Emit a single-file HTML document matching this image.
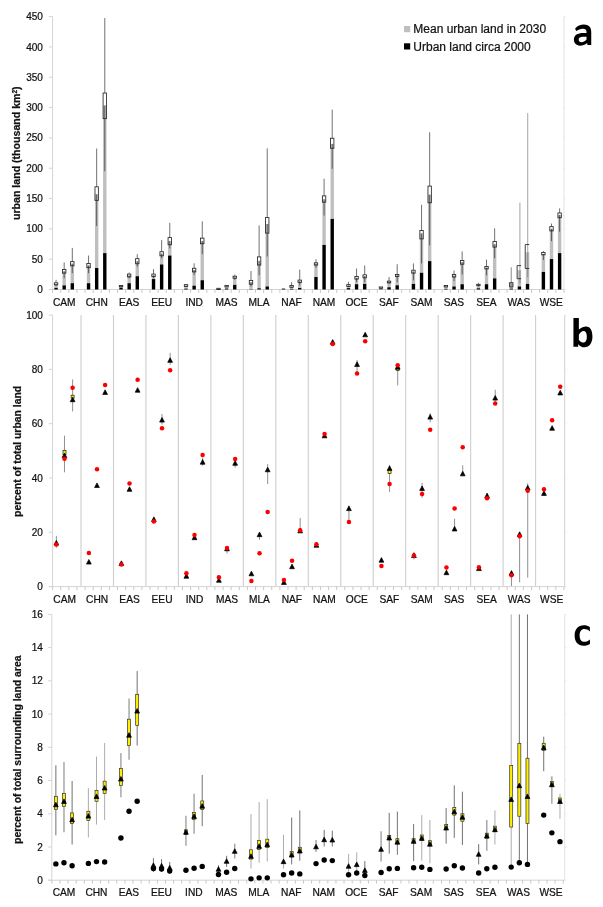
<!DOCTYPE html>
<html><head><meta charset="utf-8"><title>Urban land figure</title>
<style>
html,body{margin:0;padding:0;background:#fff;}
body{width:603px;height:907px;overflow:hidden;font-family:"Liberation Sans",sans-serif;}
svg{display:block;will-change:transform;}
svg text{font-family:"Liberation Sans",sans-serif;fill:#111;stroke:#111;stroke-width:0.22px;}
.tk{font-size:10px;}
.gl{font-size:10.2px;}
.lg{font-size:12px;}
.at{font-size:10.4px;font-weight:bold;}
.pl{font-size:40px;font-weight:bold;fill:#000;}
</style></head><body>
<svg width="603" height="907" viewBox="0 0 603 907">
<rect width="603" height="907" fill="#fff"/>
<line x1="52.6" y1="16.6" x2="52.6" y2="289.5" stroke="#d4d4d4" stroke-width="1"/>
<line x1="49.1" y1="289.5" x2="563.97" y2="289.5" stroke="#d4d4d4" stroke-width="1"/>
<line x1="563.97" y1="16.6" x2="563.97" y2="289.5" stroke="#e3e3e3" stroke-width="1"/>
<line x1="48.9" y1="289.5" x2="52.6" y2="289.5" stroke="#d4d4d4" stroke-width="1"/>
<line x1="563.97" y1="289.5" x2="565.47" y2="289.5" stroke="#e4e4e4" stroke-width="1"/>
<text x="42.9" y="293.1" text-anchor="end" class="tk">0</text>
<line x1="48.9" y1="259.18" x2="52.6" y2="259.18" stroke="#d4d4d4" stroke-width="1"/>
<line x1="563.97" y1="259.18" x2="565.47" y2="259.18" stroke="#e4e4e4" stroke-width="1"/>
<text x="42.9" y="262.78" text-anchor="end" class="tk">50</text>
<line x1="48.9" y1="228.86" x2="52.6" y2="228.86" stroke="#d4d4d4" stroke-width="1"/>
<line x1="563.97" y1="228.86" x2="565.47" y2="228.86" stroke="#e4e4e4" stroke-width="1"/>
<text x="42.9" y="232.46" text-anchor="end" class="tk">100</text>
<line x1="48.9" y1="198.53" x2="52.6" y2="198.53" stroke="#d4d4d4" stroke-width="1"/>
<line x1="563.97" y1="198.53" x2="565.47" y2="198.53" stroke="#e4e4e4" stroke-width="1"/>
<text x="42.9" y="202.13" text-anchor="end" class="tk">150</text>
<line x1="48.9" y1="168.21" x2="52.6" y2="168.21" stroke="#d4d4d4" stroke-width="1"/>
<line x1="563.97" y1="168.21" x2="565.47" y2="168.21" stroke="#e4e4e4" stroke-width="1"/>
<text x="42.9" y="171.81" text-anchor="end" class="tk">200</text>
<line x1="48.9" y1="137.89" x2="52.6" y2="137.89" stroke="#d4d4d4" stroke-width="1"/>
<line x1="563.97" y1="137.89" x2="565.47" y2="137.89" stroke="#e4e4e4" stroke-width="1"/>
<text x="42.9" y="141.49" text-anchor="end" class="tk">250</text>
<line x1="48.9" y1="107.57" x2="52.6" y2="107.57" stroke="#d4d4d4" stroke-width="1"/>
<line x1="563.97" y1="107.57" x2="565.47" y2="107.57" stroke="#e4e4e4" stroke-width="1"/>
<text x="42.9" y="111.17" text-anchor="end" class="tk">300</text>
<line x1="48.9" y1="77.24" x2="52.6" y2="77.24" stroke="#d4d4d4" stroke-width="1"/>
<line x1="563.97" y1="77.24" x2="565.47" y2="77.24" stroke="#e4e4e4" stroke-width="1"/>
<text x="42.9" y="80.84" text-anchor="end" class="tk">350</text>
<line x1="48.9" y1="46.92" x2="52.6" y2="46.92" stroke="#d4d4d4" stroke-width="1"/>
<line x1="563.97" y1="46.92" x2="565.47" y2="46.92" stroke="#e4e4e4" stroke-width="1"/>
<text x="42.9" y="50.52" text-anchor="end" class="tk">400</text>
<line x1="48.9" y1="16.6" x2="52.6" y2="16.6" stroke="#d4d4d4" stroke-width="1"/>
<line x1="563.97" y1="16.6" x2="565.47" y2="16.6" stroke="#e4e4e4" stroke-width="1"/>
<text x="42.9" y="20.2" text-anchor="end" class="tk">450</text>
<line x1="52.6" y1="289.5" x2="52.6" y2="292.9" stroke="#c8c8c8" stroke-width="1"/>
<line x1="60.72" y1="289.5" x2="60.72" y2="292.9" stroke="#c8c8c8" stroke-width="1"/>
<line x1="68.83" y1="289.5" x2="68.83" y2="292.9" stroke="#c8c8c8" stroke-width="1"/>
<line x1="76.95" y1="289.5" x2="76.95" y2="292.9" stroke="#c8c8c8" stroke-width="1"/>
<line x1="85.07" y1="289.5" x2="85.07" y2="292.9" stroke="#c8c8c8" stroke-width="1"/>
<line x1="93.19" y1="289.5" x2="93.19" y2="292.9" stroke="#c8c8c8" stroke-width="1"/>
<line x1="101.3" y1="289.5" x2="101.3" y2="292.9" stroke="#c8c8c8" stroke-width="1"/>
<line x1="109.42" y1="289.5" x2="109.42" y2="292.9" stroke="#c8c8c8" stroke-width="1"/>
<line x1="117.54" y1="289.5" x2="117.54" y2="292.9" stroke="#c8c8c8" stroke-width="1"/>
<line x1="125.65" y1="289.5" x2="125.65" y2="292.9" stroke="#c8c8c8" stroke-width="1"/>
<line x1="133.77" y1="289.5" x2="133.77" y2="292.9" stroke="#c8c8c8" stroke-width="1"/>
<line x1="141.89" y1="289.5" x2="141.89" y2="292.9" stroke="#c8c8c8" stroke-width="1"/>
<line x1="150" y1="289.5" x2="150" y2="292.9" stroke="#c8c8c8" stroke-width="1"/>
<line x1="158.12" y1="289.5" x2="158.12" y2="292.9" stroke="#c8c8c8" stroke-width="1"/>
<line x1="166.24" y1="289.5" x2="166.24" y2="292.9" stroke="#c8c8c8" stroke-width="1"/>
<line x1="174.36" y1="289.5" x2="174.36" y2="292.9" stroke="#c8c8c8" stroke-width="1"/>
<line x1="182.47" y1="289.5" x2="182.47" y2="292.9" stroke="#c8c8c8" stroke-width="1"/>
<line x1="190.59" y1="289.5" x2="190.59" y2="292.9" stroke="#c8c8c8" stroke-width="1"/>
<line x1="198.71" y1="289.5" x2="198.71" y2="292.9" stroke="#c8c8c8" stroke-width="1"/>
<line x1="206.82" y1="289.5" x2="206.82" y2="292.9" stroke="#c8c8c8" stroke-width="1"/>
<line x1="214.94" y1="289.5" x2="214.94" y2="292.9" stroke="#c8c8c8" stroke-width="1"/>
<line x1="223.06" y1="289.5" x2="223.06" y2="292.9" stroke="#c8c8c8" stroke-width="1"/>
<line x1="231.17" y1="289.5" x2="231.17" y2="292.9" stroke="#c8c8c8" stroke-width="1"/>
<line x1="239.29" y1="289.5" x2="239.29" y2="292.9" stroke="#c8c8c8" stroke-width="1"/>
<line x1="247.41" y1="289.5" x2="247.41" y2="292.9" stroke="#c8c8c8" stroke-width="1"/>
<line x1="255.53" y1="289.5" x2="255.53" y2="292.9" stroke="#c8c8c8" stroke-width="1"/>
<line x1="263.64" y1="289.5" x2="263.64" y2="292.9" stroke="#c8c8c8" stroke-width="1"/>
<line x1="271.76" y1="289.5" x2="271.76" y2="292.9" stroke="#c8c8c8" stroke-width="1"/>
<line x1="279.88" y1="289.5" x2="279.88" y2="292.9" stroke="#c8c8c8" stroke-width="1"/>
<line x1="287.99" y1="289.5" x2="287.99" y2="292.9" stroke="#c8c8c8" stroke-width="1"/>
<line x1="296.11" y1="289.5" x2="296.11" y2="292.9" stroke="#c8c8c8" stroke-width="1"/>
<line x1="304.23" y1="289.5" x2="304.23" y2="292.9" stroke="#c8c8c8" stroke-width="1"/>
<line x1="312.34" y1="289.5" x2="312.34" y2="292.9" stroke="#c8c8c8" stroke-width="1"/>
<line x1="320.46" y1="289.5" x2="320.46" y2="292.9" stroke="#c8c8c8" stroke-width="1"/>
<line x1="328.58" y1="289.5" x2="328.58" y2="292.9" stroke="#c8c8c8" stroke-width="1"/>
<line x1="336.7" y1="289.5" x2="336.7" y2="292.9" stroke="#c8c8c8" stroke-width="1"/>
<line x1="344.81" y1="289.5" x2="344.81" y2="292.9" stroke="#c8c8c8" stroke-width="1"/>
<line x1="352.93" y1="289.5" x2="352.93" y2="292.9" stroke="#c8c8c8" stroke-width="1"/>
<line x1="361.05" y1="289.5" x2="361.05" y2="292.9" stroke="#c8c8c8" stroke-width="1"/>
<line x1="369.16" y1="289.5" x2="369.16" y2="292.9" stroke="#c8c8c8" stroke-width="1"/>
<line x1="377.28" y1="289.5" x2="377.28" y2="292.9" stroke="#c8c8c8" stroke-width="1"/>
<line x1="385.4" y1="289.5" x2="385.4" y2="292.9" stroke="#c8c8c8" stroke-width="1"/>
<line x1="393.51" y1="289.5" x2="393.51" y2="292.9" stroke="#c8c8c8" stroke-width="1"/>
<line x1="401.63" y1="289.5" x2="401.63" y2="292.9" stroke="#c8c8c8" stroke-width="1"/>
<line x1="409.75" y1="289.5" x2="409.75" y2="292.9" stroke="#c8c8c8" stroke-width="1"/>
<line x1="417.87" y1="289.5" x2="417.87" y2="292.9" stroke="#c8c8c8" stroke-width="1"/>
<line x1="425.98" y1="289.5" x2="425.98" y2="292.9" stroke="#c8c8c8" stroke-width="1"/>
<line x1="434.1" y1="289.5" x2="434.1" y2="292.9" stroke="#c8c8c8" stroke-width="1"/>
<line x1="442.22" y1="289.5" x2="442.22" y2="292.9" stroke="#c8c8c8" stroke-width="1"/>
<line x1="450.33" y1="289.5" x2="450.33" y2="292.9" stroke="#c8c8c8" stroke-width="1"/>
<line x1="458.45" y1="289.5" x2="458.45" y2="292.9" stroke="#c8c8c8" stroke-width="1"/>
<line x1="466.57" y1="289.5" x2="466.57" y2="292.9" stroke="#c8c8c8" stroke-width="1"/>
<line x1="474.68" y1="289.5" x2="474.68" y2="292.9" stroke="#c8c8c8" stroke-width="1"/>
<line x1="482.8" y1="289.5" x2="482.8" y2="292.9" stroke="#c8c8c8" stroke-width="1"/>
<line x1="490.92" y1="289.5" x2="490.92" y2="292.9" stroke="#c8c8c8" stroke-width="1"/>
<line x1="499.04" y1="289.5" x2="499.04" y2="292.9" stroke="#c8c8c8" stroke-width="1"/>
<line x1="507.15" y1="289.5" x2="507.15" y2="292.9" stroke="#c8c8c8" stroke-width="1"/>
<line x1="515.27" y1="289.5" x2="515.27" y2="292.9" stroke="#c8c8c8" stroke-width="1"/>
<line x1="523.39" y1="289.5" x2="523.39" y2="292.9" stroke="#c8c8c8" stroke-width="1"/>
<line x1="531.5" y1="289.5" x2="531.5" y2="292.9" stroke="#c8c8c8" stroke-width="1"/>
<line x1="539.62" y1="289.5" x2="539.62" y2="292.9" stroke="#c8c8c8" stroke-width="1"/>
<line x1="547.74" y1="289.5" x2="547.74" y2="292.9" stroke="#c8c8c8" stroke-width="1"/>
<line x1="555.85" y1="289.5" x2="555.85" y2="292.9" stroke="#c8c8c8" stroke-width="1"/>
<line x1="563.97" y1="289.5" x2="563.97" y2="292.9" stroke="#c8c8c8" stroke-width="1"/>
<text x="64.28" y="305.6" text-anchor="middle" class="gl">CAM</text>
<text x="96.74" y="305.6" text-anchor="middle" class="gl">CHN</text>
<text x="129.21" y="305.6" text-anchor="middle" class="gl">EAS</text>
<text x="161.68" y="305.6" text-anchor="middle" class="gl">EEU</text>
<text x="194.15" y="305.6" text-anchor="middle" class="gl">IND</text>
<text x="226.62" y="305.6" text-anchor="middle" class="gl">MAS</text>
<text x="259.08" y="305.6" text-anchor="middle" class="gl">MLA</text>
<text x="291.55" y="305.6" text-anchor="middle" class="gl">NAF</text>
<text x="324.02" y="305.6" text-anchor="middle" class="gl">NAM</text>
<text x="356.49" y="305.6" text-anchor="middle" class="gl">OCE</text>
<text x="388.96" y="305.6" text-anchor="middle" class="gl">SAF</text>
<text x="421.42" y="305.6" text-anchor="middle" class="gl">SAM</text>
<text x="453.89" y="305.6" text-anchor="middle" class="gl">SAS</text>
<text x="486.36" y="305.6" text-anchor="middle" class="gl">SEA</text>
<text x="518.83" y="305.6" text-anchor="middle" class="gl">WAS</text>
<text x="551.3" y="305.6" text-anchor="middle" class="gl">WSE</text>
<rect x="54.36" y="284.04" width="3.4" height="3.82" fill="#bfbfbf"/>
<line x1="56.06" y1="279.8" x2="56.06" y2="282.83" stroke="#333" stroke-width="0.7"/>
<line x1="56.06" y1="284.04" x2="56.06" y2="285.86" stroke="#333" stroke-width="0.7"/>
<rect x="54.36" y="282.83" width="3.4" height="2.06" fill="none" stroke="#262626" stroke-width="0.85"/>
<rect x="54.36" y="287.86" width="3.4" height="1.64" fill="#000"/>
<rect x="62.48" y="271.31" width="3.4" height="14.07" fill="#bfbfbf"/>
<line x1="64.18" y1="262.51" x2="64.18" y2="269.49" stroke="#333" stroke-width="0.7"/>
<line x1="64.18" y1="271.31" x2="64.18" y2="278.22" stroke="#333" stroke-width="0.7"/>
<rect x="62.48" y="269.49" width="3.4" height="3.64" fill="none" stroke="#262626" stroke-width="0.85"/>
<rect x="62.48" y="285.38" width="3.4" height="4.12" fill="#000"/>
<rect x="70.6" y="263.67" width="3.4" height="19.53" fill="#bfbfbf"/>
<line x1="72.3" y1="247.9" x2="72.3" y2="261.6" stroke="#333" stroke-width="0.7"/>
<line x1="72.3" y1="263.67" x2="72.3" y2="273.13" stroke="#333" stroke-width="0.7"/>
<rect x="70.6" y="261.6" width="3.4" height="4.25" fill="none" stroke="#262626" stroke-width="0.85"/>
<rect x="70.6" y="283.19" width="3.4" height="6.31" fill="#000"/>
<rect x="86.85" y="265.48" width="3.4" height="17.71" fill="#bfbfbf"/>
<line x1="88.55" y1="255.54" x2="88.55" y2="263.42" stroke="#333" stroke-width="0.7"/>
<line x1="88.55" y1="265.48" x2="88.55" y2="273.13" stroke="#333" stroke-width="0.7"/>
<rect x="86.85" y="263.42" width="3.4" height="4.25" fill="none" stroke="#262626" stroke-width="0.85"/>
<rect x="86.85" y="283.19" width="3.4" height="6.31" fill="#000"/>
<rect x="94.97" y="194.29" width="3.4" height="73.68" fill="#bfbfbf"/>
<line x1="96.67" y1="148.56" x2="96.67" y2="186.83" stroke="#333" stroke-width="0.7"/>
<line x1="96.67" y1="194.29" x2="96.67" y2="226.01" stroke="#333" stroke-width="0.7"/>
<rect x="94.97" y="186.83" width="3.4" height="13.52" fill="none" stroke="#262626" stroke-width="0.85"/>
<rect x="94.97" y="267.97" width="3.4" height="21.53" fill="#000"/>
<rect x="103.09" y="105.44" width="3.4" height="147.67" fill="#bfbfbf"/>
<line x1="104.79" y1="18.12" x2="104.79" y2="93.01" stroke="#333" stroke-width="0.7"/>
<line x1="104.79" y1="105.44" x2="104.79" y2="171.24" stroke="#333" stroke-width="0.7"/>
<rect x="103.09" y="93.01" width="3.4" height="25.65" fill="none" stroke="#262626" stroke-width="0.85"/>
<rect x="103.09" y="253.11" width="3.4" height="36.39" fill="#000"/>
<rect x="119.33" y="285.68" width="3.4" height="2.18" fill="#bfbfbf"/>
<line x1="121.03" y1="285.25" x2="121.03" y2="285.56" stroke="#333" stroke-width="0.7"/>
<line x1="121.03" y1="285.68" x2="121.03" y2="287.07" stroke="#333" stroke-width="0.7"/>
<rect x="119.33" y="285.56" width="3.4" height="1.3" fill="none" stroke="#262626" stroke-width="0.85"/>
<rect x="119.33" y="287.86" width="3.4" height="1.64" fill="#000"/>
<rect x="127.46" y="275.43" width="3.4" height="7.76" fill="#bfbfbf"/>
<line x1="129.16" y1="272.52" x2="129.16" y2="274.1" stroke="#333" stroke-width="0.7"/>
<line x1="129.16" y1="275.43" x2="129.16" y2="278.22" stroke="#333" stroke-width="0.7"/>
<rect x="127.46" y="274.1" width="3.4" height="2.79" fill="none" stroke="#262626" stroke-width="0.85"/>
<rect x="127.46" y="283.19" width="3.4" height="6.31" fill="#000"/>
<rect x="135.58" y="261.18" width="3.4" height="15.04" fill="#bfbfbf"/>
<line x1="137.28" y1="254.2" x2="137.28" y2="258.69" stroke="#333" stroke-width="0.7"/>
<line x1="137.28" y1="261.18" x2="137.28" y2="266.64" stroke="#333" stroke-width="0.7"/>
<rect x="135.58" y="258.69" width="3.4" height="5.09" fill="none" stroke="#262626" stroke-width="0.85"/>
<rect x="135.58" y="276.22" width="3.4" height="13.28" fill="#000"/>
<rect x="151.82" y="275.43" width="3.4" height="3.64" fill="#bfbfbf"/>
<line x1="153.52" y1="269.12" x2="153.52" y2="274.1" stroke="#333" stroke-width="0.7"/>
<line x1="153.52" y1="275.43" x2="153.52" y2="278.22" stroke="#333" stroke-width="0.7"/>
<rect x="151.82" y="274.1" width="3.4" height="2.49" fill="none" stroke="#262626" stroke-width="0.85"/>
<rect x="151.82" y="279.07" width="3.4" height="10.43" fill="#000"/>
<rect x="159.94" y="253.72" width="3.4" height="10.73" fill="#bfbfbf"/>
<line x1="161.64" y1="240.07" x2="161.64" y2="251.72" stroke="#333" stroke-width="0.7"/>
<line x1="161.64" y1="253.72" x2="161.64" y2="258.33" stroke="#333" stroke-width="0.7"/>
<rect x="159.94" y="251.72" width="3.4" height="4.12" fill="none" stroke="#262626" stroke-width="0.85"/>
<rect x="159.94" y="264.45" width="3.4" height="25.05" fill="#000"/>
<rect x="168.07" y="240.98" width="3.4" height="14.55" fill="#bfbfbf"/>
<line x1="169.77" y1="222.79" x2="169.77" y2="237.59" stroke="#333" stroke-width="0.7"/>
<line x1="169.77" y1="240.98" x2="169.77" y2="248.38" stroke="#333" stroke-width="0.7"/>
<rect x="168.07" y="237.59" width="3.4" height="7.16" fill="none" stroke="#262626" stroke-width="0.85"/>
<rect x="168.07" y="255.54" width="3.4" height="33.96" fill="#000"/>
<rect x="184.31" y="285.68" width="3.4" height="2.97" fill="#bfbfbf"/>
<line x1="186.01" y1="284.04" x2="186.01" y2="284.65" stroke="#333" stroke-width="0.7"/>
<line x1="186.01" y1="285.68" x2="186.01" y2="286.77" stroke="#333" stroke-width="0.7"/>
<rect x="184.31" y="284.65" width="3.4" height="1.82" fill="none" stroke="#262626" stroke-width="0.85"/>
<rect x="184.31" y="288.65" width="3.4" height="0.85" fill="#000"/>
<rect x="192.43" y="269.91" width="3.4" height="15.77" fill="#bfbfbf"/>
<line x1="194.13" y1="263.3" x2="194.13" y2="268.27" stroke="#333" stroke-width="0.7"/>
<line x1="194.13" y1="269.91" x2="194.13" y2="274.95" stroke="#333" stroke-width="0.7"/>
<rect x="192.43" y="268.27" width="3.4" height="3.64" fill="none" stroke="#262626" stroke-width="0.85"/>
<rect x="192.43" y="285.68" width="3.4" height="3.82" fill="#000"/>
<rect x="200.55" y="240.98" width="3.4" height="39.24" fill="#bfbfbf"/>
<line x1="202.25" y1="221.34" x2="202.25" y2="238.13" stroke="#333" stroke-width="0.7"/>
<line x1="202.25" y1="240.98" x2="202.25" y2="254.2" stroke="#333" stroke-width="0.7"/>
<rect x="200.55" y="238.13" width="3.4" height="5.58" fill="none" stroke="#262626" stroke-width="0.85"/>
<rect x="200.55" y="280.22" width="3.4" height="9.28" fill="#000"/>
<rect x="216.8" y="288.59" width="3.4" height="0.61" fill="#bfbfbf"/>
<line x1="218.5" y1="288.29" x2="218.5" y2="288.29" stroke="#333" stroke-width="0.7"/>
<line x1="218.5" y1="288.59" x2="218.5" y2="288.89" stroke="#333" stroke-width="0.7"/>
<rect x="216.8" y="288.29" width="3.4" height="1.3" fill="none" stroke="#262626" stroke-width="0.85"/>
<rect x="216.8" y="289.2" width="3.4" height="0.3" fill="#000"/>
<rect x="224.92" y="286.47" width="3.4" height="2.06" fill="#bfbfbf"/>
<line x1="226.62" y1="285.25" x2="226.62" y2="285.38" stroke="#333" stroke-width="0.7"/>
<line x1="226.62" y1="286.47" x2="226.62" y2="287.07" stroke="#333" stroke-width="0.7"/>
<rect x="224.92" y="285.38" width="3.4" height="1.52" fill="none" stroke="#262626" stroke-width="0.85"/>
<rect x="224.92" y="288.53" width="3.4" height="0.97" fill="#000"/>
<rect x="233.04" y="277.37" width="3.4" height="7.46" fill="#bfbfbf"/>
<line x1="234.74" y1="274.58" x2="234.74" y2="276.22" stroke="#333" stroke-width="0.7"/>
<line x1="234.74" y1="277.37" x2="234.74" y2="279.8" stroke="#333" stroke-width="0.7"/>
<rect x="233.04" y="276.22" width="3.4" height="2" fill="none" stroke="#262626" stroke-width="0.85"/>
<rect x="233.04" y="284.83" width="3.4" height="4.67" fill="#000"/>
<rect x="249.29" y="282.22" width="3.4" height="6.97" fill="#bfbfbf"/>
<line x1="250.99" y1="271.06" x2="250.99" y2="280.4" stroke="#333" stroke-width="0.7"/>
<line x1="250.99" y1="282.22" x2="250.99" y2="286.47" stroke="#333" stroke-width="0.7"/>
<rect x="249.29" y="280.4" width="3.4" height="3.82" fill="none" stroke="#262626" stroke-width="0.85"/>
<rect x="249.29" y="289.2" width="3.4" height="0.3" fill="#000"/>
<rect x="257.41" y="260.82" width="3.4" height="27.47" fill="#bfbfbf"/>
<line x1="259.11" y1="225.4" x2="259.11" y2="256.87" stroke="#333" stroke-width="0.7"/>
<line x1="259.11" y1="260.82" x2="259.11" y2="275.31" stroke="#333" stroke-width="0.7"/>
<rect x="257.41" y="256.87" width="3.4" height="8.19" fill="none" stroke="#262626" stroke-width="0.85"/>
<rect x="257.41" y="288.29" width="3.4" height="1.21" fill="#000"/>
<rect x="265.53" y="224" width="3.4" height="62.46" fill="#bfbfbf"/>
<line x1="267.23" y1="148.38" x2="267.23" y2="217.58" stroke="#333" stroke-width="0.7"/>
<line x1="267.23" y1="224" x2="267.23" y2="256.51" stroke="#333" stroke-width="0.7"/>
<rect x="265.53" y="217.58" width="3.4" height="15.52" fill="none" stroke="#262626" stroke-width="0.85"/>
<rect x="265.53" y="286.47" width="3.4" height="3.03" fill="#000"/>
<rect x="281.77" y="288.59" width="3.4" height="0.91" fill="#000"/>
<rect x="289.9" y="286.47" width="3.4" height="2.43" fill="#bfbfbf"/>
<line x1="291.6" y1="282.22" x2="291.6" y2="285.56" stroke="#333" stroke-width="0.7"/>
<line x1="291.6" y1="286.47" x2="291.6" y2="287.68" stroke="#333" stroke-width="0.7"/>
<rect x="289.9" y="285.56" width="3.4" height="1.7" fill="none" stroke="#262626" stroke-width="0.85"/>
<rect x="289.9" y="288.89" width="3.4" height="0.61" fill="#000"/>
<rect x="298.02" y="281.31" width="3.4" height="6.67" fill="#bfbfbf"/>
<line x1="299.72" y1="269.67" x2="299.72" y2="280.1" stroke="#333" stroke-width="0.7"/>
<line x1="299.72" y1="281.31" x2="299.72" y2="285.56" stroke="#333" stroke-width="0.7"/>
<rect x="298.02" y="280.1" width="3.4" height="2.43" fill="none" stroke="#262626" stroke-width="0.85"/>
<rect x="298.02" y="287.98" width="3.4" height="1.52" fill="#000"/>
<rect x="314.26" y="263.73" width="3.4" height="13.28" fill="#bfbfbf"/>
<line x1="315.96" y1="259.18" x2="315.96" y2="262.82" stroke="#333" stroke-width="0.7"/>
<line x1="315.96" y1="263.73" x2="315.96" y2="267.67" stroke="#333" stroke-width="0.7"/>
<rect x="314.26" y="262.82" width="3.4" height="2.24" fill="none" stroke="#262626" stroke-width="0.85"/>
<rect x="314.26" y="277.01" width="3.4" height="12.49" fill="#000"/>
<rect x="322.38" y="199.26" width="3.4" height="45.67" fill="#bfbfbf"/>
<line x1="324.08" y1="178.76" x2="324.08" y2="195.86" stroke="#333" stroke-width="0.7"/>
<line x1="324.08" y1="199.26" x2="324.08" y2="215.51" stroke="#333" stroke-width="0.7"/>
<rect x="322.38" y="195.86" width="3.4" height="6.31" fill="none" stroke="#262626" stroke-width="0.85"/>
<rect x="322.38" y="244.93" width="3.4" height="44.57" fill="#000"/>
<rect x="330.51" y="143.95" width="3.4" height="74.96" fill="#bfbfbf"/>
<line x1="332.21" y1="109.57" x2="332.21" y2="138.25" stroke="#333" stroke-width="0.7"/>
<line x1="332.21" y1="143.95" x2="332.21" y2="168.82" stroke="#333" stroke-width="0.7"/>
<rect x="330.51" y="138.25" width="3.4" height="10.01" fill="none" stroke="#262626" stroke-width="0.85"/>
<rect x="330.51" y="218.91" width="3.4" height="70.59" fill="#000"/>
<rect x="346.75" y="285.56" width="3.4" height="2.55" fill="#bfbfbf"/>
<line x1="348.45" y1="281.8" x2="348.45" y2="284.65" stroke="#333" stroke-width="0.7"/>
<line x1="348.45" y1="285.56" x2="348.45" y2="287.07" stroke="#333" stroke-width="0.7"/>
<rect x="346.75" y="284.65" width="3.4" height="1.82" fill="none" stroke="#262626" stroke-width="0.85"/>
<rect x="346.75" y="288.11" width="3.4" height="1.39" fill="#000"/>
<rect x="354.87" y="277.86" width="3.4" height="6.37" fill="#bfbfbf"/>
<line x1="356.57" y1="268.46" x2="356.57" y2="276.52" stroke="#333" stroke-width="0.7"/>
<line x1="356.57" y1="277.86" x2="356.57" y2="282.22" stroke="#333" stroke-width="0.7"/>
<rect x="354.87" y="276.52" width="3.4" height="2.55" fill="none" stroke="#262626" stroke-width="0.85"/>
<rect x="354.87" y="284.22" width="3.4" height="5.28" fill="#000"/>
<rect x="362.99" y="276.16" width="3.4" height="7.7" fill="#bfbfbf"/>
<line x1="364.69" y1="265.42" x2="364.69" y2="274.82" stroke="#333" stroke-width="0.7"/>
<line x1="364.69" y1="276.16" x2="364.69" y2="282.22" stroke="#333" stroke-width="0.7"/>
<rect x="362.99" y="274.82" width="3.4" height="3.03" fill="none" stroke="#262626" stroke-width="0.85"/>
<rect x="362.99" y="283.86" width="3.4" height="5.64" fill="#000"/>
<rect x="379.24" y="287.68" width="3.4" height="1.52" fill="#bfbfbf"/>
<line x1="380.94" y1="286.95" x2="380.94" y2="286.95" stroke="#333" stroke-width="0.7"/>
<line x1="380.94" y1="287.68" x2="380.94" y2="288.29" stroke="#333" stroke-width="0.7"/>
<rect x="379.24" y="286.95" width="3.4" height="1.33" fill="none" stroke="#262626" stroke-width="0.85"/>
<rect x="379.24" y="289.2" width="3.4" height="0.3" fill="#000"/>
<rect x="387.36" y="281.8" width="3.4" height="5.46" fill="#bfbfbf"/>
<line x1="389.06" y1="277.01" x2="389.06" y2="281.13" stroke="#333" stroke-width="0.7"/>
<line x1="389.06" y1="281.8" x2="389.06" y2="284.04" stroke="#333" stroke-width="0.7"/>
<rect x="387.36" y="281.13" width="3.4" height="1.7" fill="none" stroke="#262626" stroke-width="0.85"/>
<rect x="387.36" y="287.26" width="3.4" height="2.24" fill="#000"/>
<rect x="395.48" y="275.31" width="3.4" height="9.95" fill="#bfbfbf"/>
<line x1="397.18" y1="264.21" x2="397.18" y2="274.46" stroke="#333" stroke-width="0.7"/>
<line x1="397.18" y1="275.31" x2="397.18" y2="282.22" stroke="#333" stroke-width="0.7"/>
<rect x="395.48" y="274.46" width="3.4" height="2.06" fill="none" stroke="#262626" stroke-width="0.85"/>
<rect x="395.48" y="285.25" width="3.4" height="4.25" fill="#000"/>
<rect x="411.73" y="271.55" width="3.4" height="12.31" fill="#bfbfbf"/>
<line x1="413.43" y1="263.42" x2="413.43" y2="270.22" stroke="#333" stroke-width="0.7"/>
<line x1="413.43" y1="271.55" x2="413.43" y2="280.4" stroke="#333" stroke-width="0.7"/>
<rect x="411.73" y="270.22" width="3.4" height="2.91" fill="none" stroke="#262626" stroke-width="0.85"/>
<rect x="411.73" y="283.86" width="3.4" height="5.64" fill="#000"/>
<rect x="419.85" y="233.46" width="3.4" height="39.3" fill="#bfbfbf"/>
<line x1="421.55" y1="204.72" x2="421.55" y2="230.55" stroke="#333" stroke-width="0.7"/>
<line x1="421.55" y1="233.46" x2="421.55" y2="263.42" stroke="#333" stroke-width="0.7"/>
<rect x="419.85" y="230.55" width="3.4" height="8.37" fill="none" stroke="#262626" stroke-width="0.85"/>
<rect x="419.85" y="272.76" width="3.4" height="16.74" fill="#000"/>
<rect x="427.97" y="194.65" width="3.4" height="66.47" fill="#bfbfbf"/>
<line x1="429.67" y1="132.25" x2="429.67" y2="186.1" stroke="#333" stroke-width="0.7"/>
<line x1="429.67" y1="194.65" x2="429.67" y2="245.41" stroke="#333" stroke-width="0.7"/>
<rect x="427.97" y="186.1" width="3.4" height="16.68" fill="none" stroke="#262626" stroke-width="0.85"/>
<rect x="427.97" y="261.12" width="3.4" height="28.38" fill="#000"/>
<rect x="444.21" y="286.47" width="3.4" height="2.43" fill="#bfbfbf"/>
<line x1="445.91" y1="285.25" x2="445.91" y2="285.56" stroke="#333" stroke-width="0.7"/>
<line x1="445.91" y1="286.47" x2="445.91" y2="287.07" stroke="#333" stroke-width="0.7"/>
<rect x="444.21" y="285.56" width="3.4" height="1.39" fill="none" stroke="#262626" stroke-width="0.85"/>
<rect x="444.21" y="288.89" width="3.4" height="0.61" fill="#000"/>
<rect x="452.34" y="275.67" width="3.4" height="10.79" fill="#bfbfbf"/>
<line x1="454.04" y1="270.52" x2="454.04" y2="274.46" stroke="#333" stroke-width="0.7"/>
<line x1="454.04" y1="275.67" x2="454.04" y2="281.01" stroke="#333" stroke-width="0.7"/>
<rect x="452.34" y="274.46" width="3.4" height="2.55" fill="none" stroke="#262626" stroke-width="0.85"/>
<rect x="452.34" y="286.47" width="3.4" height="3.03" fill="#000"/>
<rect x="460.46" y="262.21" width="3.4" height="22.01" fill="#bfbfbf"/>
<line x1="462.16" y1="251.42" x2="462.16" y2="260.45" stroke="#333" stroke-width="0.7"/>
<line x1="462.16" y1="262.21" x2="462.16" y2="274.46" stroke="#333" stroke-width="0.7"/>
<rect x="460.46" y="260.45" width="3.4" height="3.76" fill="none" stroke="#262626" stroke-width="0.85"/>
<rect x="460.46" y="284.22" width="3.4" height="5.28" fill="#000"/>
<rect x="476.7" y="285.25" width="3.4" height="3.03" fill="#bfbfbf"/>
<line x1="478.4" y1="282.83" x2="478.4" y2="284.35" stroke="#333" stroke-width="0.7"/>
<line x1="478.4" y1="285.25" x2="478.4" y2="286.47" stroke="#333" stroke-width="0.7"/>
<rect x="476.7" y="284.35" width="3.4" height="1.3" fill="none" stroke="#262626" stroke-width="0.85"/>
<rect x="476.7" y="288.29" width="3.4" height="1.21" fill="#000"/>
<rect x="484.82" y="267.67" width="3.4" height="16.56" fill="#bfbfbf"/>
<line x1="486.52" y1="259.6" x2="486.52" y2="266.46" stroke="#333" stroke-width="0.7"/>
<line x1="486.52" y1="267.67" x2="486.52" y2="275.31" stroke="#333" stroke-width="0.7"/>
<rect x="484.82" y="266.46" width="3.4" height="2.43" fill="none" stroke="#262626" stroke-width="0.85"/>
<rect x="484.82" y="284.22" width="3.4" height="5.28" fill="#000"/>
<rect x="492.95" y="244.2" width="3.4" height="34.2" fill="#bfbfbf"/>
<line x1="494.65" y1="228.31" x2="494.65" y2="241.47" stroke="#333" stroke-width="0.7"/>
<line x1="494.65" y1="244.2" x2="494.65" y2="258.21" stroke="#333" stroke-width="0.7"/>
<rect x="492.95" y="241.47" width="3.4" height="5.64" fill="none" stroke="#262626" stroke-width="0.85"/>
<rect x="492.95" y="278.4" width="3.4" height="11.1" fill="#000"/>
<rect x="509.59" y="284.65" width="3.4" height="4" fill="#bfbfbf"/>
<line x1="511.29" y1="267.3" x2="511.29" y2="284.65" stroke="#aaa" stroke-width="1.4"/>
<line x1="511.29" y1="284.65" x2="511.29" y2="287.68" stroke="#aaa" stroke-width="1.4"/>
<rect x="509.59" y="282.65" width="3.4" height="4.31" fill="#999" stroke="#333" stroke-width="0.85"/>
<rect x="509.59" y="288.65" width="3.4" height="0.85" fill="#000"/>
<rect x="517.71" y="270.22" width="3.4" height="16.25" fill="#bfbfbf"/>
<line x1="519.91" y1="202.72" x2="519.91" y2="270.22" stroke="#6a6a6a" stroke-width="0.62"/>
<line x1="519.91" y1="270.22" x2="519.91" y2="283.44" stroke="#6a6a6a" stroke-width="0.62"/>
<path d="M521.11 265.61 L517.11 265.61 L517.11 278.71 L521.11 278.71" fill="none" stroke="#222" stroke-width="0.85"/>
<rect x="517.71" y="286.47" width="3.4" height="3.03" fill="#000"/>
<rect x="525.83" y="252.26" width="3.4" height="31.6" fill="#bfbfbf"/>
<line x1="527.73" y1="113.09" x2="527.73" y2="252.26" stroke="#6a6a6a" stroke-width="0.62"/>
<line x1="527.73" y1="252.26" x2="527.73" y2="277.37" stroke="#6a6a6a" stroke-width="0.62"/>
<path d="M529.23 244.56 L525.23 244.56 L525.23 268.46 L529.23 268.46" fill="none" stroke="#222" stroke-width="0.85"/>
<rect x="525.83" y="283.86" width="3.4" height="5.64" fill="#000"/>
<rect x="541.68" y="253.96" width="3.4" height="17.95" fill="#bfbfbf"/>
<line x1="543.38" y1="251.05" x2="543.38" y2="252.57" stroke="#333" stroke-width="0.7"/>
<line x1="543.38" y1="253.96" x2="543.38" y2="259.97" stroke="#333" stroke-width="0.7"/>
<rect x="541.68" y="252.57" width="3.4" height="2.24" fill="none" stroke="#262626" stroke-width="0.85"/>
<rect x="541.68" y="271.91" width="3.4" height="17.59" fill="#000"/>
<rect x="549.8" y="228.86" width="3.4" height="30.2" fill="#bfbfbf"/>
<line x1="551.5" y1="223.52" x2="551.5" y2="226.61" stroke="#333" stroke-width="0.7"/>
<line x1="551.5" y1="228.86" x2="551.5" y2="241.17" stroke="#333" stroke-width="0.7"/>
<rect x="549.8" y="226.61" width="3.4" height="4.31" fill="none" stroke="#262626" stroke-width="0.85"/>
<rect x="549.8" y="259.06" width="3.4" height="30.44" fill="#000"/>
<rect x="557.92" y="214.97" width="3.4" height="38.15" fill="#bfbfbf"/>
<line x1="559.62" y1="208.36" x2="559.62" y2="212.97" stroke="#333" stroke-width="0.7"/>
<line x1="559.62" y1="214.97" x2="559.62" y2="231.77" stroke="#333" stroke-width="0.7"/>
<rect x="557.92" y="212.97" width="3.4" height="4.79" fill="none" stroke="#262626" stroke-width="0.85"/>
<rect x="557.92" y="253.11" width="3.4" height="36.39" fill="#000"/>
<rect x="404" y="26" width="6.2" height="6.2" fill="#bfbfbf"/>
<text x="413.3" y="32.6" class="lg">Mean urban land in 2030</text>
<rect x="404" y="43.3" width="6.2" height="6.2" fill="#000"/>
<text x="413.3" y="50.6" class="lg">Urban land circa 2000</text>
<path transform="translate(560,10) scale(0.07133)" fill="#000" fill-rule="evenodd" d="M211 262 C240 225 290 205 335 205 C405 205 438 245 438 310 L438 490 L385 490 L381 463 C350 490 315 500 280 500 C225 500 195 465 195 415 C195 350 245 322 330 322 L372 322 L372 307 C372 272 355 262 320 262 C285 262 255 275 228 296 Z M372 376 L335 376 C290 372 262 385 262 415 C262 440 278 452 300 452 C325 452 350 440 372 415 Z"/>
<path transform="translate(540,305) scale(0.10448)" fill="#000" fill-rule="evenodd" d="M320 125 L372 125 L372 235 C395 215 420 205 440 205 C485 205 502 250 502 302 C502 360 475 405 425 405 C400 405 382 395 365 375 L365 400 L320 400 Z M372 285 L372 335 C388 352 402 360 415 360 C440 360 448 335 448 305 C448 275 440 250 416 250 C400 250 388 262 372 285 Z"/>
<path transform="translate(560,612) scale(0.07133)" fill="#000" d="M418 210 C395 193 365 185 335 185 C255 185 205 240 205 330 C205 420 250 472 330 472 C365 472 395 463 420 447 L420 385 C395 405 370 418 342 418 C300 418 275 385 275 328 C275 275 300 240 340 240 C370 240 395 252 420 272 Z"/>
<text transform="translate(20.2,153.2) rotate(-90)" text-anchor="middle" class="at" style="font-size:10.6px">urban land (thousand km<tspan dy="-3.5" font-size="6.5">2</tspan><tspan dy="3.5">)</tspan></text>
<text transform="translate(20.6,451.4) rotate(-90)" text-anchor="middle" class="at">percent of total urban land</text>
<text transform="translate(20.7,749.7) rotate(-90)" text-anchor="middle" class="at" style="font-size:10.45px">percent of total surrounding land area</text>
<line x1="81.01" y1="315.1" x2="81.01" y2="586.6" stroke="#d0d0d0" stroke-width="1.15"/>
<line x1="113.48" y1="315.1" x2="113.48" y2="586.6" stroke="#d0d0d0" stroke-width="1.15"/>
<line x1="145.95" y1="315.1" x2="145.95" y2="586.6" stroke="#d0d0d0" stroke-width="1.15"/>
<line x1="178.41" y1="315.1" x2="178.41" y2="586.6" stroke="#d0d0d0" stroke-width="1.15"/>
<line x1="210.88" y1="315.1" x2="210.88" y2="586.6" stroke="#d0d0d0" stroke-width="1.15"/>
<line x1="243.35" y1="315.1" x2="243.35" y2="586.6" stroke="#d0d0d0" stroke-width="1.15"/>
<line x1="275.82" y1="315.1" x2="275.82" y2="586.6" stroke="#d0d0d0" stroke-width="1.15"/>
<line x1="308.29" y1="315.1" x2="308.29" y2="586.6" stroke="#d0d0d0" stroke-width="1.15"/>
<line x1="340.75" y1="315.1" x2="340.75" y2="586.6" stroke="#d0d0d0" stroke-width="1.15"/>
<line x1="373.22" y1="315.1" x2="373.22" y2="586.6" stroke="#d0d0d0" stroke-width="1.15"/>
<line x1="405.69" y1="315.1" x2="405.69" y2="586.6" stroke="#d0d0d0" stroke-width="1.15"/>
<line x1="438.16" y1="315.1" x2="438.16" y2="586.6" stroke="#d0d0d0" stroke-width="1.15"/>
<line x1="470.63" y1="315.1" x2="470.63" y2="586.6" stroke="#d0d0d0" stroke-width="1.15"/>
<line x1="503.09" y1="315.1" x2="503.09" y2="586.6" stroke="#d0d0d0" stroke-width="1.15"/>
<line x1="535.56" y1="315.1" x2="535.56" y2="586.6" stroke="#d0d0d0" stroke-width="1.15"/>
<line x1="52.6" y1="315.1" x2="52.6" y2="586.6" stroke="#d4d4d4" stroke-width="1"/>
<line x1="49.1" y1="586.6" x2="564.7" y2="586.6" stroke="#d4d4d4" stroke-width="1"/>
<line x1="564.7" y1="315.1" x2="564.7" y2="586.6" stroke="#d2d2d2" stroke-width="1"/>
<line x1="48.9" y1="586.6" x2="52.6" y2="586.6" stroke="#d4d4d4" stroke-width="1"/>
<line x1="564.7" y1="586.6" x2="566.2" y2="586.6" stroke="#e4e4e4" stroke-width="1"/>
<text x="42.9" y="590.2" text-anchor="end" class="tk">0</text>
<line x1="48.9" y1="532.3" x2="52.6" y2="532.3" stroke="#d4d4d4" stroke-width="1"/>
<line x1="564.7" y1="532.3" x2="566.2" y2="532.3" stroke="#e4e4e4" stroke-width="1"/>
<text x="42.9" y="535.9" text-anchor="end" class="tk">20</text>
<line x1="48.9" y1="478" x2="52.6" y2="478" stroke="#d4d4d4" stroke-width="1"/>
<line x1="564.7" y1="478" x2="566.2" y2="478" stroke="#e4e4e4" stroke-width="1"/>
<text x="42.9" y="481.6" text-anchor="end" class="tk">40</text>
<line x1="48.9" y1="423.7" x2="52.6" y2="423.7" stroke="#d4d4d4" stroke-width="1"/>
<line x1="564.7" y1="423.7" x2="566.2" y2="423.7" stroke="#e4e4e4" stroke-width="1"/>
<text x="42.9" y="427.3" text-anchor="end" class="tk">60</text>
<line x1="48.9" y1="369.4" x2="52.6" y2="369.4" stroke="#d4d4d4" stroke-width="1"/>
<line x1="564.7" y1="369.4" x2="566.2" y2="369.4" stroke="#e4e4e4" stroke-width="1"/>
<text x="42.9" y="373" text-anchor="end" class="tk">80</text>
<line x1="48.9" y1="315.1" x2="52.6" y2="315.1" stroke="#d4d4d4" stroke-width="1"/>
<line x1="564.7" y1="315.1" x2="566.2" y2="315.1" stroke="#e4e4e4" stroke-width="1"/>
<text x="42.9" y="318.7" text-anchor="end" class="tk">100</text>
<line x1="52.6" y1="586.6" x2="52.6" y2="590" stroke="#c8c8c8" stroke-width="1"/>
<line x1="60.72" y1="586.6" x2="60.72" y2="590" stroke="#c8c8c8" stroke-width="1"/>
<line x1="68.83" y1="586.6" x2="68.83" y2="590" stroke="#c8c8c8" stroke-width="1"/>
<line x1="76.95" y1="586.6" x2="76.95" y2="590" stroke="#c8c8c8" stroke-width="1"/>
<line x1="85.07" y1="586.6" x2="85.07" y2="590" stroke="#c8c8c8" stroke-width="1"/>
<line x1="93.19" y1="586.6" x2="93.19" y2="590" stroke="#c8c8c8" stroke-width="1"/>
<line x1="101.3" y1="586.6" x2="101.3" y2="590" stroke="#c8c8c8" stroke-width="1"/>
<line x1="109.42" y1="586.6" x2="109.42" y2="590" stroke="#c8c8c8" stroke-width="1"/>
<line x1="117.54" y1="586.6" x2="117.54" y2="590" stroke="#c8c8c8" stroke-width="1"/>
<line x1="125.65" y1="586.6" x2="125.65" y2="590" stroke="#c8c8c8" stroke-width="1"/>
<line x1="133.77" y1="586.6" x2="133.77" y2="590" stroke="#c8c8c8" stroke-width="1"/>
<line x1="141.89" y1="586.6" x2="141.89" y2="590" stroke="#c8c8c8" stroke-width="1"/>
<line x1="150" y1="586.6" x2="150" y2="590" stroke="#c8c8c8" stroke-width="1"/>
<line x1="158.12" y1="586.6" x2="158.12" y2="590" stroke="#c8c8c8" stroke-width="1"/>
<line x1="166.24" y1="586.6" x2="166.24" y2="590" stroke="#c8c8c8" stroke-width="1"/>
<line x1="174.36" y1="586.6" x2="174.36" y2="590" stroke="#c8c8c8" stroke-width="1"/>
<line x1="182.47" y1="586.6" x2="182.47" y2="590" stroke="#c8c8c8" stroke-width="1"/>
<line x1="190.59" y1="586.6" x2="190.59" y2="590" stroke="#c8c8c8" stroke-width="1"/>
<line x1="198.71" y1="586.6" x2="198.71" y2="590" stroke="#c8c8c8" stroke-width="1"/>
<line x1="206.82" y1="586.6" x2="206.82" y2="590" stroke="#c8c8c8" stroke-width="1"/>
<line x1="214.94" y1="586.6" x2="214.94" y2="590" stroke="#c8c8c8" stroke-width="1"/>
<line x1="223.06" y1="586.6" x2="223.06" y2="590" stroke="#c8c8c8" stroke-width="1"/>
<line x1="231.17" y1="586.6" x2="231.17" y2="590" stroke="#c8c8c8" stroke-width="1"/>
<line x1="239.29" y1="586.6" x2="239.29" y2="590" stroke="#c8c8c8" stroke-width="1"/>
<line x1="247.41" y1="586.6" x2="247.41" y2="590" stroke="#c8c8c8" stroke-width="1"/>
<line x1="255.53" y1="586.6" x2="255.53" y2="590" stroke="#c8c8c8" stroke-width="1"/>
<line x1="263.64" y1="586.6" x2="263.64" y2="590" stroke="#c8c8c8" stroke-width="1"/>
<line x1="271.76" y1="586.6" x2="271.76" y2="590" stroke="#c8c8c8" stroke-width="1"/>
<line x1="279.88" y1="586.6" x2="279.88" y2="590" stroke="#c8c8c8" stroke-width="1"/>
<line x1="287.99" y1="586.6" x2="287.99" y2="590" stroke="#c8c8c8" stroke-width="1"/>
<line x1="296.11" y1="586.6" x2="296.11" y2="590" stroke="#c8c8c8" stroke-width="1"/>
<line x1="304.23" y1="586.6" x2="304.23" y2="590" stroke="#c8c8c8" stroke-width="1"/>
<line x1="312.34" y1="586.6" x2="312.34" y2="590" stroke="#c8c8c8" stroke-width="1"/>
<line x1="320.46" y1="586.6" x2="320.46" y2="590" stroke="#c8c8c8" stroke-width="1"/>
<line x1="328.58" y1="586.6" x2="328.58" y2="590" stroke="#c8c8c8" stroke-width="1"/>
<line x1="336.7" y1="586.6" x2="336.7" y2="590" stroke="#c8c8c8" stroke-width="1"/>
<line x1="344.81" y1="586.6" x2="344.81" y2="590" stroke="#c8c8c8" stroke-width="1"/>
<line x1="352.93" y1="586.6" x2="352.93" y2="590" stroke="#c8c8c8" stroke-width="1"/>
<line x1="361.05" y1="586.6" x2="361.05" y2="590" stroke="#c8c8c8" stroke-width="1"/>
<line x1="369.16" y1="586.6" x2="369.16" y2="590" stroke="#c8c8c8" stroke-width="1"/>
<line x1="377.28" y1="586.6" x2="377.28" y2="590" stroke="#c8c8c8" stroke-width="1"/>
<line x1="385.4" y1="586.6" x2="385.4" y2="590" stroke="#c8c8c8" stroke-width="1"/>
<line x1="393.51" y1="586.6" x2="393.51" y2="590" stroke="#c8c8c8" stroke-width="1"/>
<line x1="401.63" y1="586.6" x2="401.63" y2="590" stroke="#c8c8c8" stroke-width="1"/>
<line x1="409.75" y1="586.6" x2="409.75" y2="590" stroke="#c8c8c8" stroke-width="1"/>
<line x1="417.87" y1="586.6" x2="417.87" y2="590" stroke="#c8c8c8" stroke-width="1"/>
<line x1="425.98" y1="586.6" x2="425.98" y2="590" stroke="#c8c8c8" stroke-width="1"/>
<line x1="434.1" y1="586.6" x2="434.1" y2="590" stroke="#c8c8c8" stroke-width="1"/>
<line x1="442.22" y1="586.6" x2="442.22" y2="590" stroke="#c8c8c8" stroke-width="1"/>
<line x1="450.33" y1="586.6" x2="450.33" y2="590" stroke="#c8c8c8" stroke-width="1"/>
<line x1="458.45" y1="586.6" x2="458.45" y2="590" stroke="#c8c8c8" stroke-width="1"/>
<line x1="466.57" y1="586.6" x2="466.57" y2="590" stroke="#c8c8c8" stroke-width="1"/>
<line x1="474.68" y1="586.6" x2="474.68" y2="590" stroke="#c8c8c8" stroke-width="1"/>
<line x1="482.8" y1="586.6" x2="482.8" y2="590" stroke="#c8c8c8" stroke-width="1"/>
<line x1="490.92" y1="586.6" x2="490.92" y2="590" stroke="#c8c8c8" stroke-width="1"/>
<line x1="499.04" y1="586.6" x2="499.04" y2="590" stroke="#c8c8c8" stroke-width="1"/>
<line x1="507.15" y1="586.6" x2="507.15" y2="590" stroke="#c8c8c8" stroke-width="1"/>
<line x1="515.27" y1="586.6" x2="515.27" y2="590" stroke="#c8c8c8" stroke-width="1"/>
<line x1="523.39" y1="586.6" x2="523.39" y2="590" stroke="#c8c8c8" stroke-width="1"/>
<line x1="531.5" y1="586.6" x2="531.5" y2="590" stroke="#c8c8c8" stroke-width="1"/>
<line x1="539.62" y1="586.6" x2="539.62" y2="590" stroke="#c8c8c8" stroke-width="1"/>
<line x1="547.74" y1="586.6" x2="547.74" y2="590" stroke="#c8c8c8" stroke-width="1"/>
<line x1="555.85" y1="586.6" x2="555.85" y2="590" stroke="#c8c8c8" stroke-width="1"/>
<line x1="563.97" y1="586.6" x2="563.97" y2="590" stroke="#c8c8c8" stroke-width="1"/>
<text x="64.63" y="602.7" text-anchor="middle" class="gl">CAM</text>
<text x="97.09" y="602.7" text-anchor="middle" class="gl">CHN</text>
<text x="129.56" y="602.7" text-anchor="middle" class="gl">EAS</text>
<text x="162.03" y="602.7" text-anchor="middle" class="gl">EEU</text>
<text x="194.5" y="602.7" text-anchor="middle" class="gl">IND</text>
<text x="226.97" y="602.7" text-anchor="middle" class="gl">MAS</text>
<text x="259.43" y="602.7" text-anchor="middle" class="gl">MLA</text>
<text x="291.9" y="602.7" text-anchor="middle" class="gl">NAF</text>
<text x="324.37" y="602.7" text-anchor="middle" class="gl">NAM</text>
<text x="356.84" y="602.7" text-anchor="middle" class="gl">OCE</text>
<text x="389.31" y="602.7" text-anchor="middle" class="gl">SAF</text>
<text x="421.77" y="602.7" text-anchor="middle" class="gl">SAM</text>
<text x="454.24" y="602.7" text-anchor="middle" class="gl">SAS</text>
<text x="486.71" y="602.7" text-anchor="middle" class="gl">SEA</text>
<text x="519.18" y="602.7" text-anchor="middle" class="gl">WAS</text>
<text x="551.65" y="602.7" text-anchor="middle" class="gl">WSE</text>
<line x1="56.36" y1="535.83" x2="56.36" y2="547.78" stroke="#555" stroke-width="0.65"/>
<path d="M56.36 540.49 L58.76 545.09 L53.96 545.09 Z" fill="#000" stroke="#000" stroke-width="0.7" stroke-linejoin="round"/>
<circle cx="56.36" cy="544.52" r="2.25" fill="#fa0000"/>
<line x1="64.49" y1="435.65" x2="64.49" y2="472.3" stroke="#555" stroke-width="0.65"/>
<rect x="62.99" y="450.31" width="3.0" height="4.34" fill="#ffee00" stroke="#222" stroke-width="0.7"/>
<path d="M64.49 453.07 L66.89 457.67 L62.09 457.67 Z" fill="#000" stroke="#000" stroke-width="0.7" stroke-linejoin="round"/>
<circle cx="64.49" cy="458.72" r="2.25" fill="#fa0000"/>
<line x1="72.61" y1="379.45" x2="72.61" y2="411.48" stroke="#555" stroke-width="0.65"/>
<rect x="71.11" y="395.19" width="3.0" height="2.99" fill="#ffee00" stroke="#222" stroke-width="0.7"/>
<path d="M72.61 397.14 L75.01 401.74 L70.21 401.74 Z" fill="#000" stroke="#000" stroke-width="0.7" stroke-linejoin="round"/>
<circle cx="72.61" cy="387.86" r="2.25" fill="#fa0000"/>
<path d="M88.87 559.49 L91.27 564.09 L86.47 564.09 Z" fill="#000" stroke="#000" stroke-width="0.7" stroke-linejoin="round"/>
<circle cx="88.87" cy="552.93" r="2.25" fill="#fa0000"/>
<path d="M96.99 482.93 L99.39 487.53 L94.59 487.53 Z" fill="#000" stroke="#000" stroke-width="0.7" stroke-linejoin="round"/>
<circle cx="96.99" cy="469.31" r="2.25" fill="#fa0000"/>
<path d="M105.12 389.81 L107.52 394.41 L102.72 394.41 Z" fill="#000" stroke="#000" stroke-width="0.7" stroke-linejoin="round"/>
<circle cx="105.12" cy="384.88" r="2.25" fill="#fa0000"/>
<path d="M121.37 560.85 L123.77 565.45 L118.97 565.45 Z" fill="#000" stroke="#000" stroke-width="0.7" stroke-linejoin="round"/>
<circle cx="121.37" cy="564.61" r="2.25" fill="#fa0000"/>
<path d="M129.5 486.73 L131.9 491.33 L127.1 491.33 Z" fill="#000" stroke="#000" stroke-width="0.7" stroke-linejoin="round"/>
<circle cx="129.5" cy="483.43" r="2.25" fill="#fa0000"/>
<path d="M137.63 387.63 L140.03 392.23 L135.23 392.23 Z" fill="#000" stroke="#000" stroke-width="0.7" stroke-linejoin="round"/>
<circle cx="137.63" cy="379.72" r="2.25" fill="#fa0000"/>
<path d="M153.88 516.87 L156.28 521.47 L151.48 521.47 Z" fill="#000" stroke="#000" stroke-width="0.7" stroke-linejoin="round"/>
<circle cx="153.88" cy="521.44" r="2.25" fill="#fa0000"/>
<line x1="162.01" y1="413.93" x2="162.01" y2="424.51" stroke="#555" stroke-width="0.65"/>
<path d="M162.01 417.5 L164.41 422.1 L159.61 422.1 Z" fill="#000" stroke="#000" stroke-width="0.7" stroke-linejoin="round"/>
<circle cx="162.01" cy="428.32" r="2.25" fill="#fa0000"/>
<line x1="170.14" y1="352.84" x2="170.14" y2="364.78" stroke="#555" stroke-width="0.65"/>
<path d="M170.14 357.77 L172.54 362.37 L167.74 362.37 Z" fill="#000" stroke="#000" stroke-width="0.7" stroke-linejoin="round"/>
<circle cx="170.14" cy="370.21" r="2.25" fill="#fa0000"/>
<path d="M186.39 573.61 L188.79 578.21 L183.99 578.21 Z" fill="#000" stroke="#000" stroke-width="0.7" stroke-linejoin="round"/>
<circle cx="186.39" cy="573.3" r="2.25" fill="#fa0000"/>
<path d="M194.52 535.06 L196.92 539.66 L192.12 539.66 Z" fill="#000" stroke="#000" stroke-width="0.7" stroke-linejoin="round"/>
<circle cx="194.52" cy="535.01" r="2.25" fill="#fa0000"/>
<line x1="202.64" y1="457.64" x2="202.64" y2="465.78" stroke="#555" stroke-width="0.65"/>
<path d="M202.64 459.58 L205.04 464.18 L200.24 464.18 Z" fill="#000" stroke="#000" stroke-width="0.7" stroke-linejoin="round"/>
<circle cx="202.64" cy="454.92" r="2.25" fill="#fa0000"/>
<path d="M218.9 577.68 L221.3 582.28 L216.5 582.28 Z" fill="#000" stroke="#000" stroke-width="0.7" stroke-linejoin="round"/>
<circle cx="218.9" cy="577.37" r="2.25" fill="#fa0000"/>
<line x1="227.03" y1="546.15" x2="227.03" y2="553.48" stroke="#555" stroke-width="0.65"/>
<path d="M227.03 546.19 L229.43 550.79 L224.63 550.79 Z" fill="#000" stroke="#000" stroke-width="0.7" stroke-linejoin="round"/>
<circle cx="227.03" cy="548.05" r="2.25" fill="#fa0000"/>
<line x1="235.15" y1="460.9" x2="235.15" y2="467.68" stroke="#555" stroke-width="0.65"/>
<path d="M235.15 460.67 L237.55 465.27 L232.75 465.27 Z" fill="#000" stroke="#000" stroke-width="0.7" stroke-linejoin="round"/>
<circle cx="235.15" cy="459" r="2.25" fill="#fa0000"/>
<path d="M251.41 571.17 L253.81 575.77 L249.01 575.77 Z" fill="#000" stroke="#000" stroke-width="0.7" stroke-linejoin="round"/>
<circle cx="251.41" cy="580.9" r="2.25" fill="#fa0000"/>
<line x1="259.53" y1="532.03" x2="259.53" y2="539.9" stroke="#555" stroke-width="0.65"/>
<path d="M259.53 532.07 L261.93 536.67 L257.13 536.67 Z" fill="#000" stroke="#000" stroke-width="0.7" stroke-linejoin="round"/>
<circle cx="259.53" cy="553.21" r="2.25" fill="#fa0000"/>
<line x1="267.66" y1="464.15" x2="267.66" y2="483.97" stroke="#555" stroke-width="0.65"/>
<path d="M267.66 467.18 L270.06 471.78 L265.26 471.78 Z" fill="#000" stroke="#000" stroke-width="0.7" stroke-linejoin="round"/>
<circle cx="267.66" cy="511.94" r="2.25" fill="#fa0000"/>
<path d="M283.91 579.86 L286.31 584.46 L281.51 584.46 Z" fill="#000" stroke="#000" stroke-width="0.7" stroke-linejoin="round"/>
<circle cx="283.91" cy="580.08" r="2.25" fill="#fa0000"/>
<path d="M292.04 564.11 L294.44 568.71 L289.64 568.71 Z" fill="#000" stroke="#000" stroke-width="0.7" stroke-linejoin="round"/>
<circle cx="292.04" cy="560.81" r="2.25" fill="#fa0000"/>
<line x1="300.17" y1="517.91" x2="300.17" y2="530.67" stroke="#555" stroke-width="0.65"/>
<path d="M300.17 528.27 L302.57 532.87 L297.77 532.87 Z" fill="#000" stroke="#000" stroke-width="0.7" stroke-linejoin="round"/>
<circle cx="300.17" cy="530.13" r="2.25" fill="#fa0000"/>
<path d="M316.42 542.66 L318.82 547.26 L314.02 547.26 Z" fill="#000" stroke="#000" stroke-width="0.7" stroke-linejoin="round"/>
<circle cx="316.42" cy="544.25" r="2.25" fill="#fa0000"/>
<path d="M324.55 433.25 L326.95 437.85 L322.15 437.85 Z" fill="#000" stroke="#000" stroke-width="0.7" stroke-linejoin="round"/>
<circle cx="324.55" cy="434.02" r="2.25" fill="#fa0000"/>
<path d="M332.68 339.58 L335.08 344.18 L330.28 344.18 Z" fill="#000" stroke="#000" stroke-width="0.7" stroke-linejoin="round"/>
<circle cx="332.68" cy="343.88" r="2.25" fill="#fa0000"/>
<line x1="348.93" y1="505.42" x2="348.93" y2="521.98" stroke="#555" stroke-width="0.65"/>
<path d="M348.93 506.01 L351.33 510.61 L346.53 510.61 Z" fill="#000" stroke="#000" stroke-width="0.7" stroke-linejoin="round"/>
<circle cx="348.93" cy="521.98" r="2.25" fill="#fa0000"/>
<line x1="357.06" y1="359.9" x2="357.06" y2="372.12" stroke="#555" stroke-width="0.65"/>
<path d="M357.06 361.84 L359.46 366.44 L354.66 366.44 Z" fill="#000" stroke="#000" stroke-width="0.7" stroke-linejoin="round"/>
<circle cx="357.06" cy="373.47" r="2.25" fill="#fa0000"/>
<path d="M365.18 332.25 L367.58 336.85 L362.78 336.85 Z" fill="#000" stroke="#000" stroke-width="0.7" stroke-linejoin="round"/>
<circle cx="365.18" cy="341.16" r="2.25" fill="#fa0000"/>
<path d="M381.44 557.59 L383.84 562.19 L379.04 562.19 Z" fill="#000" stroke="#000" stroke-width="0.7" stroke-linejoin="round"/>
<circle cx="381.44" cy="565.97" r="2.25" fill="#fa0000"/>
<line x1="389.57" y1="464.97" x2="389.57" y2="491.85" stroke="#555" stroke-width="0.65"/>
<rect x="388.07" y="469.58" width="3.0" height="3.8" fill="#ffee00" stroke="#222" stroke-width="0.7"/>
<path d="M389.57 465.83 L391.97 470.43 L387.17 470.43 Z" fill="#000" stroke="#000" stroke-width="0.7" stroke-linejoin="round"/>
<circle cx="389.57" cy="483.97" r="2.25" fill="#fa0000"/>
<line x1="397.69" y1="365.33" x2="397.69" y2="385.42" stroke="#555" stroke-width="0.65"/>
<rect x="396.19" y="367.77" width="3.0" height="2.71" fill="#ffee00" stroke="#222" stroke-width="0.7"/>
<path d="M397.69 364.56 L400.09 369.16 L395.29 369.16 Z" fill="#000" stroke="#000" stroke-width="0.7" stroke-linejoin="round"/>
<circle cx="397.69" cy="365.33" r="2.25" fill="#fa0000"/>
<line x1="413.95" y1="551.85" x2="413.95" y2="559.45" stroke="#555" stroke-width="0.65"/>
<path d="M413.95 552.98 L416.35 557.58 L411.55 557.58 Z" fill="#000" stroke="#000" stroke-width="0.7" stroke-linejoin="round"/>
<circle cx="413.95" cy="555.38" r="2.25" fill="#fa0000"/>
<line x1="422.07" y1="482.89" x2="422.07" y2="497.82" stroke="#555" stroke-width="0.65"/>
<path d="M422.07 485.92 L424.47 490.52 L419.67 490.52 Z" fill="#000" stroke="#000" stroke-width="0.7" stroke-linejoin="round"/>
<circle cx="422.07" cy="494.02" r="2.25" fill="#fa0000"/>
<line x1="430.2" y1="413.38" x2="430.2" y2="422.34" stroke="#555" stroke-width="0.65"/>
<path d="M430.2 414.51 L432.6 419.11 L427.8 419.11 Z" fill="#000" stroke="#000" stroke-width="0.7" stroke-linejoin="round"/>
<circle cx="430.2" cy="429.67" r="2.25" fill="#fa0000"/>
<path d="M446.45 570.08 L448.85 574.68 L444.05 574.68 Z" fill="#000" stroke="#000" stroke-width="0.7" stroke-linejoin="round"/>
<circle cx="446.45" cy="567.6" r="2.25" fill="#fa0000"/>
<line x1="454.58" y1="518.73" x2="454.58" y2="528.77" stroke="#555" stroke-width="0.65"/>
<path d="M454.58 526.37 L456.98 530.97 L452.18 530.97 Z" fill="#000" stroke="#000" stroke-width="0.7" stroke-linejoin="round"/>
<circle cx="454.58" cy="508.41" r="2.25" fill="#fa0000"/>
<line x1="462.71" y1="465.24" x2="462.71" y2="475.29" stroke="#555" stroke-width="0.65"/>
<path d="M462.71 471.26 L465.11 475.86 L460.31 475.86 Z" fill="#000" stroke="#000" stroke-width="0.7" stroke-linejoin="round"/>
<circle cx="462.71" cy="447.32" r="2.25" fill="#fa0000"/>
<path d="M478.96 566.01 L481.36 570.61 L476.56 570.61 Z" fill="#000" stroke="#000" stroke-width="0.7" stroke-linejoin="round"/>
<circle cx="478.96" cy="567.32" r="2.25" fill="#fa0000"/>
<line x1="487.09" y1="492.93" x2="487.09" y2="499.72" stroke="#555" stroke-width="0.65"/>
<path d="M487.09 493.25 L489.49 497.85 L484.69 497.85 Z" fill="#000" stroke="#000" stroke-width="0.7" stroke-linejoin="round"/>
<circle cx="487.09" cy="498.36" r="2.25" fill="#fa0000"/>
<line x1="495.22" y1="389.76" x2="495.22" y2="404.7" stroke="#555" stroke-width="0.65"/>
<path d="M495.22 395.51 L497.62 400.11 L492.82 400.11 Z" fill="#000" stroke="#000" stroke-width="0.7" stroke-linejoin="round"/>
<circle cx="495.22" cy="403.61" r="2.25" fill="#fa0000"/>
<line x1="511.47" y1="571.67" x2="511.47" y2="586.06" stroke="#555" stroke-width="0.65"/>
<path d="M511.47 570.62 L513.87 575.23 L509.07 575.23 Z" fill="#000" stroke="#000" stroke-width="0.7" stroke-linejoin="round"/>
<circle cx="511.47" cy="575.2" r="2.25" fill="#fa0000"/>
<line x1="519.6" y1="532.3" x2="519.6" y2="582.26" stroke="#555" stroke-width="0.65"/>
<path d="M519.6 531.8 L522 536.4 L517.2 536.4 Z" fill="#000" stroke="#000" stroke-width="0.7" stroke-linejoin="round"/>
<circle cx="519.6" cy="536.37" r="2.25" fill="#fa0000"/>
<line x1="527.72" y1="483.16" x2="527.72" y2="577.64" stroke="#555" stroke-width="0.65"/>
<path d="M527.72 485.37 L530.12 489.97 L525.32 489.97 Z" fill="#000" stroke="#000" stroke-width="0.7" stroke-linejoin="round"/>
<circle cx="527.72" cy="490.76" r="2.25" fill="#fa0000"/>
<path d="M543.98 490.8 L546.38 495.4 L541.58 495.4 Z" fill="#000" stroke="#000" stroke-width="0.7" stroke-linejoin="round"/>
<circle cx="543.98" cy="489.13" r="2.25" fill="#fa0000"/>
<path d="M552.11 425.64 L554.51 430.24 L549.71 430.24 Z" fill="#000" stroke="#000" stroke-width="0.7" stroke-linejoin="round"/>
<circle cx="552.11" cy="420.17" r="2.25" fill="#fa0000"/>
<path d="M560.23 390.35 L562.63 394.95 L557.83 394.95 Z" fill="#000" stroke="#000" stroke-width="0.7" stroke-linejoin="round"/>
<circle cx="560.23" cy="386.78" r="2.25" fill="#fa0000"/>
<line x1="51.8" y1="614.4" x2="51.8" y2="880.2" stroke="#d4d4d4" stroke-width="1"/>
<line x1="48.3" y1="880.2" x2="564.7" y2="880.2" stroke="#d4d4d4" stroke-width="1"/>
<line x1="564.7" y1="614.4" x2="564.7" y2="880.2" stroke="#e3e3e3" stroke-width="1"/>
<line x1="48.1" y1="880.2" x2="51.8" y2="880.2" stroke="#d4d4d4" stroke-width="1"/>
<line x1="564.7" y1="880.2" x2="566.2" y2="880.2" stroke="#e4e4e4" stroke-width="1"/>
<text x="42.9" y="883.8" text-anchor="end" class="tk">0</text>
<line x1="48.1" y1="846.98" x2="51.8" y2="846.98" stroke="#d4d4d4" stroke-width="1"/>
<line x1="564.7" y1="846.98" x2="566.2" y2="846.98" stroke="#e4e4e4" stroke-width="1"/>
<text x="42.9" y="850.58" text-anchor="end" class="tk">2</text>
<line x1="48.1" y1="813.75" x2="51.8" y2="813.75" stroke="#d4d4d4" stroke-width="1"/>
<line x1="564.7" y1="813.75" x2="566.2" y2="813.75" stroke="#e4e4e4" stroke-width="1"/>
<text x="42.9" y="817.35" text-anchor="end" class="tk">4</text>
<line x1="48.1" y1="780.52" x2="51.8" y2="780.52" stroke="#d4d4d4" stroke-width="1"/>
<line x1="564.7" y1="780.52" x2="566.2" y2="780.52" stroke="#e4e4e4" stroke-width="1"/>
<text x="42.9" y="784.12" text-anchor="end" class="tk">6</text>
<line x1="48.1" y1="747.3" x2="51.8" y2="747.3" stroke="#d4d4d4" stroke-width="1"/>
<line x1="564.7" y1="747.3" x2="566.2" y2="747.3" stroke="#e4e4e4" stroke-width="1"/>
<text x="42.9" y="750.9" text-anchor="end" class="tk">8</text>
<line x1="48.1" y1="714.08" x2="51.8" y2="714.08" stroke="#d4d4d4" stroke-width="1"/>
<line x1="564.7" y1="714.08" x2="566.2" y2="714.08" stroke="#e4e4e4" stroke-width="1"/>
<text x="42.9" y="717.68" text-anchor="end" class="tk">10</text>
<line x1="48.1" y1="680.85" x2="51.8" y2="680.85" stroke="#d4d4d4" stroke-width="1"/>
<line x1="564.7" y1="680.85" x2="566.2" y2="680.85" stroke="#e4e4e4" stroke-width="1"/>
<text x="42.9" y="684.45" text-anchor="end" class="tk">12</text>
<line x1="48.1" y1="647.62" x2="51.8" y2="647.62" stroke="#d4d4d4" stroke-width="1"/>
<line x1="564.7" y1="647.62" x2="566.2" y2="647.62" stroke="#e4e4e4" stroke-width="1"/>
<text x="42.9" y="651.23" text-anchor="end" class="tk">14</text>
<line x1="48.1" y1="614.4" x2="51.8" y2="614.4" stroke="#d4d4d4" stroke-width="1"/>
<line x1="564.7" y1="614.4" x2="566.2" y2="614.4" stroke="#e4e4e4" stroke-width="1"/>
<text x="42.9" y="618" text-anchor="end" class="tk">16</text>
<line x1="51.85" y1="880.2" x2="51.85" y2="883.6" stroke="#c8c8c8" stroke-width="1"/>
<line x1="59.97" y1="880.2" x2="59.97" y2="883.6" stroke="#c8c8c8" stroke-width="1"/>
<line x1="68.08" y1="880.2" x2="68.08" y2="883.6" stroke="#c8c8c8" stroke-width="1"/>
<line x1="76.2" y1="880.2" x2="76.2" y2="883.6" stroke="#c8c8c8" stroke-width="1"/>
<line x1="84.32" y1="880.2" x2="84.32" y2="883.6" stroke="#c8c8c8" stroke-width="1"/>
<line x1="92.44" y1="880.2" x2="92.44" y2="883.6" stroke="#c8c8c8" stroke-width="1"/>
<line x1="100.55" y1="880.2" x2="100.55" y2="883.6" stroke="#c8c8c8" stroke-width="1"/>
<line x1="108.67" y1="880.2" x2="108.67" y2="883.6" stroke="#c8c8c8" stroke-width="1"/>
<line x1="116.79" y1="880.2" x2="116.79" y2="883.6" stroke="#c8c8c8" stroke-width="1"/>
<line x1="124.9" y1="880.2" x2="124.9" y2="883.6" stroke="#c8c8c8" stroke-width="1"/>
<line x1="133.02" y1="880.2" x2="133.02" y2="883.6" stroke="#c8c8c8" stroke-width="1"/>
<line x1="141.14" y1="880.2" x2="141.14" y2="883.6" stroke="#c8c8c8" stroke-width="1"/>
<line x1="149.25" y1="880.2" x2="149.25" y2="883.6" stroke="#c8c8c8" stroke-width="1"/>
<line x1="157.37" y1="880.2" x2="157.37" y2="883.6" stroke="#c8c8c8" stroke-width="1"/>
<line x1="165.49" y1="880.2" x2="165.49" y2="883.6" stroke="#c8c8c8" stroke-width="1"/>
<line x1="173.61" y1="880.2" x2="173.61" y2="883.6" stroke="#c8c8c8" stroke-width="1"/>
<line x1="181.72" y1="880.2" x2="181.72" y2="883.6" stroke="#c8c8c8" stroke-width="1"/>
<line x1="189.84" y1="880.2" x2="189.84" y2="883.6" stroke="#c8c8c8" stroke-width="1"/>
<line x1="197.96" y1="880.2" x2="197.96" y2="883.6" stroke="#c8c8c8" stroke-width="1"/>
<line x1="206.07" y1="880.2" x2="206.07" y2="883.6" stroke="#c8c8c8" stroke-width="1"/>
<line x1="214.19" y1="880.2" x2="214.19" y2="883.6" stroke="#c8c8c8" stroke-width="1"/>
<line x1="222.31" y1="880.2" x2="222.31" y2="883.6" stroke="#c8c8c8" stroke-width="1"/>
<line x1="230.42" y1="880.2" x2="230.42" y2="883.6" stroke="#c8c8c8" stroke-width="1"/>
<line x1="238.54" y1="880.2" x2="238.54" y2="883.6" stroke="#c8c8c8" stroke-width="1"/>
<line x1="246.66" y1="880.2" x2="246.66" y2="883.6" stroke="#c8c8c8" stroke-width="1"/>
<line x1="254.78" y1="880.2" x2="254.78" y2="883.6" stroke="#c8c8c8" stroke-width="1"/>
<line x1="262.89" y1="880.2" x2="262.89" y2="883.6" stroke="#c8c8c8" stroke-width="1"/>
<line x1="271.01" y1="880.2" x2="271.01" y2="883.6" stroke="#c8c8c8" stroke-width="1"/>
<line x1="279.13" y1="880.2" x2="279.13" y2="883.6" stroke="#c8c8c8" stroke-width="1"/>
<line x1="287.24" y1="880.2" x2="287.24" y2="883.6" stroke="#c8c8c8" stroke-width="1"/>
<line x1="295.36" y1="880.2" x2="295.36" y2="883.6" stroke="#c8c8c8" stroke-width="1"/>
<line x1="303.48" y1="880.2" x2="303.48" y2="883.6" stroke="#c8c8c8" stroke-width="1"/>
<line x1="311.59" y1="880.2" x2="311.59" y2="883.6" stroke="#c8c8c8" stroke-width="1"/>
<line x1="319.71" y1="880.2" x2="319.71" y2="883.6" stroke="#c8c8c8" stroke-width="1"/>
<line x1="327.83" y1="880.2" x2="327.83" y2="883.6" stroke="#c8c8c8" stroke-width="1"/>
<line x1="335.95" y1="880.2" x2="335.95" y2="883.6" stroke="#c8c8c8" stroke-width="1"/>
<line x1="344.06" y1="880.2" x2="344.06" y2="883.6" stroke="#c8c8c8" stroke-width="1"/>
<line x1="352.18" y1="880.2" x2="352.18" y2="883.6" stroke="#c8c8c8" stroke-width="1"/>
<line x1="360.3" y1="880.2" x2="360.3" y2="883.6" stroke="#c8c8c8" stroke-width="1"/>
<line x1="368.41" y1="880.2" x2="368.41" y2="883.6" stroke="#c8c8c8" stroke-width="1"/>
<line x1="376.53" y1="880.2" x2="376.53" y2="883.6" stroke="#c8c8c8" stroke-width="1"/>
<line x1="384.65" y1="880.2" x2="384.65" y2="883.6" stroke="#c8c8c8" stroke-width="1"/>
<line x1="392.76" y1="880.2" x2="392.76" y2="883.6" stroke="#c8c8c8" stroke-width="1"/>
<line x1="400.88" y1="880.2" x2="400.88" y2="883.6" stroke="#c8c8c8" stroke-width="1"/>
<line x1="409" y1="880.2" x2="409" y2="883.6" stroke="#c8c8c8" stroke-width="1"/>
<line x1="417.12" y1="880.2" x2="417.12" y2="883.6" stroke="#c8c8c8" stroke-width="1"/>
<line x1="425.23" y1="880.2" x2="425.23" y2="883.6" stroke="#c8c8c8" stroke-width="1"/>
<line x1="433.35" y1="880.2" x2="433.35" y2="883.6" stroke="#c8c8c8" stroke-width="1"/>
<line x1="441.47" y1="880.2" x2="441.47" y2="883.6" stroke="#c8c8c8" stroke-width="1"/>
<line x1="449.58" y1="880.2" x2="449.58" y2="883.6" stroke="#c8c8c8" stroke-width="1"/>
<line x1="457.7" y1="880.2" x2="457.7" y2="883.6" stroke="#c8c8c8" stroke-width="1"/>
<line x1="465.82" y1="880.2" x2="465.82" y2="883.6" stroke="#c8c8c8" stroke-width="1"/>
<line x1="473.93" y1="880.2" x2="473.93" y2="883.6" stroke="#c8c8c8" stroke-width="1"/>
<line x1="482.05" y1="880.2" x2="482.05" y2="883.6" stroke="#c8c8c8" stroke-width="1"/>
<line x1="490.17" y1="880.2" x2="490.17" y2="883.6" stroke="#c8c8c8" stroke-width="1"/>
<line x1="498.29" y1="880.2" x2="498.29" y2="883.6" stroke="#c8c8c8" stroke-width="1"/>
<line x1="506.4" y1="880.2" x2="506.4" y2="883.6" stroke="#c8c8c8" stroke-width="1"/>
<line x1="514.52" y1="880.2" x2="514.52" y2="883.6" stroke="#c8c8c8" stroke-width="1"/>
<line x1="522.64" y1="880.2" x2="522.64" y2="883.6" stroke="#c8c8c8" stroke-width="1"/>
<line x1="530.75" y1="880.2" x2="530.75" y2="883.6" stroke="#c8c8c8" stroke-width="1"/>
<line x1="538.87" y1="880.2" x2="538.87" y2="883.6" stroke="#c8c8c8" stroke-width="1"/>
<line x1="546.99" y1="880.2" x2="546.99" y2="883.6" stroke="#c8c8c8" stroke-width="1"/>
<line x1="555.1" y1="880.2" x2="555.1" y2="883.6" stroke="#c8c8c8" stroke-width="1"/>
<line x1="563.22" y1="880.2" x2="563.22" y2="883.6" stroke="#c8c8c8" stroke-width="1"/>
<text x="63.98" y="896.3" text-anchor="middle" class="gl">CAM</text>
<text x="96.44" y="896.3" text-anchor="middle" class="gl">CHN</text>
<text x="128.91" y="896.3" text-anchor="middle" class="gl">EAS</text>
<text x="161.38" y="896.3" text-anchor="middle" class="gl">EEU</text>
<text x="193.85" y="896.3" text-anchor="middle" class="gl">IND</text>
<text x="226.32" y="896.3" text-anchor="middle" class="gl">MAS</text>
<text x="258.78" y="896.3" text-anchor="middle" class="gl">MLA</text>
<text x="291.25" y="896.3" text-anchor="middle" class="gl">NAF</text>
<text x="323.72" y="896.3" text-anchor="middle" class="gl">NAM</text>
<text x="356.19" y="896.3" text-anchor="middle" class="gl">OCE</text>
<text x="388.66" y="896.3" text-anchor="middle" class="gl">SAF</text>
<text x="421.12" y="896.3" text-anchor="middle" class="gl">SAM</text>
<text x="453.59" y="896.3" text-anchor="middle" class="gl">SAS</text>
<text x="486.06" y="896.3" text-anchor="middle" class="gl">SEA</text>
<text x="518.53" y="896.3" text-anchor="middle" class="gl">WAS</text>
<text x="551" y="896.3" text-anchor="middle" class="gl">WSE</text>
<line x1="55.86" y1="765.24" x2="55.86" y2="835.35" stroke="#333" stroke-width="0.7"/>
<rect x="54.36" y="796.31" width="3.0" height="12.96" fill="#ffee00" stroke="#333" stroke-width="0.7"/>
<path d="M55.86 802.21 L58.26 806.81 L53.46 806.81 Z" fill="#000" stroke="#000" stroke-width="0.7" stroke-linejoin="round"/>
<circle cx="55.86" cy="863.92" r="2.7" fill="#000"/>
<line x1="63.99" y1="762.09" x2="63.99" y2="832.36" stroke="#9a9a9a" stroke-width="1.3"/>
<rect x="62.49" y="793.32" width="3.0" height="12.96" fill="#ffee00" stroke="#333" stroke-width="0.7"/>
<path d="M63.99 798.89 L66.39 803.49 L61.59 803.49 Z" fill="#000" stroke="#000" stroke-width="0.7" stroke-linejoin="round"/>
<circle cx="63.99" cy="862.76" r="2.7" fill="#000"/>
<line x1="72.12" y1="781.02" x2="72.12" y2="844.48" stroke="#333" stroke-width="0.7"/>
<rect x="70.62" y="812.92" width="3.0" height="10.47" fill="#ffee00" stroke="#333" stroke-width="0.7"/>
<path d="M72.12 817.16 L74.52 821.76 L69.72 821.76 Z" fill="#000" stroke="#000" stroke-width="0.7" stroke-linejoin="round"/>
<circle cx="72.12" cy="865.75" r="2.7" fill="#000"/>
<line x1="88.38" y1="788.17" x2="88.38" y2="837.51" stroke="#888" stroke-width="0.7"/>
<rect x="86.88" y="811.26" width="3.0" height="9.14" fill="#ffee00" stroke="#333" stroke-width="0.7"/>
<path d="M88.38 813.51 L90.78 818.11 L85.98 818.11 Z" fill="#000" stroke="#000" stroke-width="0.7" stroke-linejoin="round"/>
<circle cx="88.38" cy="863.42" r="2.7" fill="#000"/>
<line x1="96.51" y1="756.6" x2="96.51" y2="824.55" stroke="#888" stroke-width="0.7"/>
<rect x="95.01" y="790.49" width="3.0" height="10.8" fill="#ffee00" stroke="#333" stroke-width="0.7"/>
<path d="M96.51 793.91 L98.91 798.51 L94.11 798.51 Z" fill="#000" stroke="#000" stroke-width="0.7" stroke-linejoin="round"/>
<circle cx="96.51" cy="861.59" r="2.7" fill="#000"/>
<line x1="104.64" y1="742.98" x2="104.64" y2="820.06" stroke="#888" stroke-width="0.7"/>
<rect x="103.14" y="781.19" width="3.0" height="12.13" fill="#ffee00" stroke="#333" stroke-width="0.7"/>
<path d="M104.64 785.43 L107.04 790.03 L102.24 790.03 Z" fill="#000" stroke="#000" stroke-width="0.7" stroke-linejoin="round"/>
<circle cx="104.64" cy="861.93" r="2.7" fill="#000"/>
<line x1="120.91" y1="752.95" x2="120.91" y2="797.14" stroke="#9a9a9a" stroke-width="1.3"/>
<rect x="119.41" y="768.4" width="3.0" height="17.11" fill="#ffee00" stroke="#333" stroke-width="0.7"/>
<path d="M120.91 776.46 L123.31 781.06 L118.51 781.06 Z" fill="#000" stroke="#000" stroke-width="0.7" stroke-linejoin="round"/>
<circle cx="120.91" cy="838" r="2.7" fill="#000"/>
<line x1="129.04" y1="698.46" x2="129.04" y2="759.76" stroke="#9a9a9a" stroke-width="1.3"/>
<rect x="127.54" y="719.22" width="3.0" height="26.25" fill="#ffee00" stroke="#333" stroke-width="0.7"/>
<path d="M129.04 732.61 L131.44 737.21 L126.64 737.21 Z" fill="#000" stroke="#000" stroke-width="0.7" stroke-linejoin="round"/>
<circle cx="129.04" cy="811.26" r="2.7" fill="#000"/>
<line x1="137.17" y1="671.05" x2="137.17" y2="745.47" stroke="#333" stroke-width="0.7"/>
<rect x="135.67" y="694.31" width="3.0" height="31.23" fill="#ffee00" stroke="#333" stroke-width="0.7"/>
<path d="M137.17 708.52 L139.57 713.12 L134.77 713.12 Z" fill="#000" stroke="#000" stroke-width="0.7" stroke-linejoin="round"/>
<circle cx="137.17" cy="801.29" r="2.7" fill="#000"/>
<line x1="153.43" y1="858.11" x2="153.43" y2="871.89" stroke="#333" stroke-width="0.7"/>
<path d="M153.43 862.85 L155.83 867.45 L151.03 867.45 Z" fill="#000" stroke="#000" stroke-width="0.7" stroke-linejoin="round"/>
<circle cx="153.43" cy="868.57" r="2.7" fill="#000"/>
<line x1="161.56" y1="859.1" x2="161.56" y2="871.89" stroke="#333" stroke-width="0.7"/>
<path d="M161.56 863.35 L163.96 867.95 L159.16 867.95 Z" fill="#000" stroke="#000" stroke-width="0.7" stroke-linejoin="round"/>
<circle cx="161.56" cy="869.07" r="2.7" fill="#000"/>
<line x1="169.69" y1="861.93" x2="169.69" y2="873.56" stroke="#333" stroke-width="0.7"/>
<path d="M169.69 865.34 L172.09 869.94 L167.29 869.94 Z" fill="#000" stroke="#000" stroke-width="0.7" stroke-linejoin="round"/>
<circle cx="169.69" cy="871.06" r="2.7" fill="#000"/>
<line x1="185.95" y1="815.74" x2="185.95" y2="845.81" stroke="#9a9a9a" stroke-width="1.3"/>
<rect x="184.45" y="829.86" width="3.0" height="4.65" fill="#ffee00" stroke="#333" stroke-width="0.7"/>
<path d="M185.95 829.62 L188.35 834.22 L183.55 834.22 Z" fill="#000" stroke="#000" stroke-width="0.7" stroke-linejoin="round"/>
<circle cx="185.95" cy="870.23" r="2.7" fill="#000"/>
<line x1="194.09" y1="793.82" x2="194.09" y2="833.69" stroke="#9a9a9a" stroke-width="1.3"/>
<rect x="192.59" y="812.42" width="3.0" height="7.14" fill="#ffee00" stroke="#333" stroke-width="0.7"/>
<path d="M194.09 813.84 L196.49 818.44 L191.69 818.44 Z" fill="#000" stroke="#000" stroke-width="0.7" stroke-linejoin="round"/>
<circle cx="194.09" cy="868.24" r="2.7" fill="#000"/>
<line x1="202.22" y1="774.88" x2="202.22" y2="826.21" stroke="#333" stroke-width="0.7"/>
<rect x="200.72" y="800.96" width="3.0" height="8.64" fill="#ffee00" stroke="#333" stroke-width="0.7"/>
<path d="M202.22 803.54 L204.62 808.14 L199.82 808.14 Z" fill="#000" stroke="#000" stroke-width="0.7" stroke-linejoin="round"/>
<circle cx="202.22" cy="866.41" r="2.7" fill="#000"/>
<line x1="218.48" y1="865.25" x2="218.48" y2="873.56" stroke="#333" stroke-width="0.7"/>
<path d="M218.48 866.67 L220.88 871.27 L216.08 871.27 Z" fill="#000" stroke="#000" stroke-width="0.7" stroke-linejoin="round"/>
<circle cx="218.48" cy="874.55" r="2.7" fill="#000"/>
<line x1="226.61" y1="855.78" x2="226.61" y2="866.91" stroke="#333" stroke-width="0.7"/>
<path d="M226.61 858.7 L229.01 863.3 L224.21 863.3 Z" fill="#000" stroke="#000" stroke-width="0.7" stroke-linejoin="round"/>
<circle cx="226.61" cy="872.23" r="2.7" fill="#000"/>
<line x1="234.74" y1="843.65" x2="234.74" y2="858.6" stroke="#9a9a9a" stroke-width="1.3"/>
<path d="M234.74 848.73 L237.14 853.33 L232.34 853.33 Z" fill="#000" stroke="#000" stroke-width="0.7" stroke-linejoin="round"/>
<circle cx="234.74" cy="868.57" r="2.7" fill="#000"/>
<line x1="251" y1="814.08" x2="251" y2="868.57" stroke="#888" stroke-width="0.7"/>
<rect x="249.5" y="849.8" width="3.0" height="9.3" fill="#ffee00" stroke="#333" stroke-width="0.7"/>
<path d="M251 853.71 L253.4 858.31 L248.6 858.31 Z" fill="#000" stroke="#000" stroke-width="0.7" stroke-linejoin="round"/>
<circle cx="251" cy="878.87" r="2.7" fill="#000"/>
<line x1="259.13" y1="802.12" x2="259.13" y2="862.76" stroke="#888" stroke-width="0.7"/>
<rect x="257.63" y="840.33" width="3.0" height="9.14" fill="#ffee00" stroke="#333" stroke-width="0.7"/>
<path d="M259.13 843.74 L261.53 848.34 L256.73 848.34 Z" fill="#000" stroke="#000" stroke-width="0.7" stroke-linejoin="round"/>
<circle cx="259.13" cy="877.87" r="2.7" fill="#000"/>
<line x1="267.26" y1="799.13" x2="267.26" y2="861.43" stroke="#888" stroke-width="0.7"/>
<rect x="265.76" y="839.17" width="3.0" height="8.31" fill="#ffee00" stroke="#333" stroke-width="0.7"/>
<path d="M267.26 842.08 L269.66 846.68 L264.86 846.68 Z" fill="#000" stroke="#000" stroke-width="0.7" stroke-linejoin="round"/>
<circle cx="267.26" cy="877.87" r="2.7" fill="#000"/>
<line x1="283.53" y1="834.85" x2="283.53" y2="868.57" stroke="#888" stroke-width="0.7"/>
<path d="M283.53 859.03 L285.93 863.63 L281.13 863.63 Z" fill="#000" stroke="#000" stroke-width="0.7" stroke-linejoin="round"/>
<circle cx="283.53" cy="874.72" r="2.7" fill="#000"/>
<line x1="291.66" y1="817.57" x2="291.66" y2="864.42" stroke="#333" stroke-width="0.7"/>
<rect x="290.16" y="851.63" width="3.0" height="5.32" fill="#ffee00" stroke="#333" stroke-width="0.7"/>
<path d="M291.66 852.38 L294.06 856.98 L289.26 856.98 Z" fill="#000" stroke="#000" stroke-width="0.7" stroke-linejoin="round"/>
<circle cx="291.66" cy="873.06" r="2.7" fill="#000"/>
<line x1="299.79" y1="810.43" x2="299.79" y2="860.76" stroke="#333" stroke-width="0.7"/>
<rect x="298.29" y="847.31" width="3.0" height="5.48" fill="#ffee00" stroke="#333" stroke-width="0.7"/>
<path d="M299.79 848.4 L302.19 853 L297.39 853 Z" fill="#000" stroke="#000" stroke-width="0.7" stroke-linejoin="round"/>
<circle cx="299.79" cy="873.89" r="2.7" fill="#000"/>
<line x1="316.05" y1="840" x2="316.05" y2="851.96" stroke="#9a9a9a" stroke-width="1.3"/>
<path d="M316.05 844.24 L318.45 848.84 L313.65 848.84 Z" fill="#000" stroke="#000" stroke-width="0.7" stroke-linejoin="round"/>
<circle cx="316.05" cy="863.59" r="2.7" fill="#000"/>
<line x1="324.18" y1="829.86" x2="324.18" y2="846.48" stroke="#333" stroke-width="0.7"/>
<path d="M324.18 837.1 L326.58 841.7 L321.78 841.7 Z" fill="#000" stroke="#000" stroke-width="0.7" stroke-linejoin="round"/>
<circle cx="324.18" cy="859.93" r="2.7" fill="#000"/>
<line x1="332.31" y1="830.69" x2="332.31" y2="846.48" stroke="#333" stroke-width="0.7"/>
<path d="M332.31 837.43 L334.71 842.03 L329.91 842.03 Z" fill="#000" stroke="#000" stroke-width="0.7" stroke-linejoin="round"/>
<circle cx="332.31" cy="860.6" r="2.7" fill="#000"/>
<line x1="348.57" y1="853.95" x2="348.57" y2="871.89" stroke="#888" stroke-width="0.7"/>
<path d="M348.57 863.68 L350.97 868.28 L346.17 868.28 Z" fill="#000" stroke="#000" stroke-width="0.7" stroke-linejoin="round"/>
<circle cx="348.57" cy="874.72" r="2.7" fill="#000"/>
<line x1="356.71" y1="852.29" x2="356.71" y2="871.89" stroke="#888" stroke-width="0.7"/>
<path d="M356.71 862.02 L359.11 866.62 L354.31 866.62 Z" fill="#000" stroke="#000" stroke-width="0.7" stroke-linejoin="round"/>
<circle cx="356.71" cy="873.06" r="2.7" fill="#000"/>
<line x1="364.84" y1="861.1" x2="364.84" y2="875.22" stroke="#333" stroke-width="0.7"/>
<path d="M364.84 867.83 L367.24 872.43 L362.44 872.43 Z" fill="#000" stroke="#000" stroke-width="0.7" stroke-linejoin="round"/>
<circle cx="364.84" cy="875.55" r="2.7" fill="#000"/>
<line x1="381.1" y1="831.19" x2="381.1" y2="861.43" stroke="#9a9a9a" stroke-width="1.3"/>
<path d="M381.1 846.73 L383.5 851.33 L378.7 851.33 Z" fill="#000" stroke="#000" stroke-width="0.7" stroke-linejoin="round"/>
<circle cx="381.1" cy="872.56" r="2.7" fill="#000"/>
<line x1="389.23" y1="812.92" x2="389.23" y2="853.62" stroke="#333" stroke-width="0.7"/>
<rect x="387.73" y="835.35" width="3.0" height="4.15" fill="#ffee00" stroke="#333" stroke-width="0.7"/>
<path d="M389.23 835.44 L391.63 840.04 L386.83 840.04 Z" fill="#000" stroke="#000" stroke-width="0.7" stroke-linejoin="round"/>
<circle cx="389.23" cy="868.74" r="2.7" fill="#000"/>
<line x1="397.36" y1="811.59" x2="397.36" y2="854.78" stroke="#333" stroke-width="0.7"/>
<rect x="395.86" y="838.67" width="3.0" height="4.98" fill="#ffee00" stroke="#333" stroke-width="0.7"/>
<path d="M397.36 839.59 L399.76 844.19 L394.96 844.19 Z" fill="#000" stroke="#000" stroke-width="0.7" stroke-linejoin="round"/>
<circle cx="397.36" cy="868.41" r="2.7" fill="#000"/>
<line x1="413.62" y1="824.05" x2="413.62" y2="861.1" stroke="#333" stroke-width="0.7"/>
<rect x="412.12" y="838.67" width="3.0" height="3.32" fill="#ffee00" stroke="#333" stroke-width="0.7"/>
<path d="M413.62 838.76 L416.02 843.36 L411.22 843.36 Z" fill="#000" stroke="#000" stroke-width="0.7" stroke-linejoin="round"/>
<circle cx="413.62" cy="867.74" r="2.7" fill="#000"/>
<line x1="421.75" y1="815.08" x2="421.75" y2="860.6" stroke="#888" stroke-width="0.7"/>
<rect x="420.25" y="835.01" width="3.0" height="5.32" fill="#ffee00" stroke="#333" stroke-width="0.7"/>
<path d="M421.75 835.77 L424.15 840.37 L419.35 840.37 Z" fill="#000" stroke="#000" stroke-width="0.7" stroke-linejoin="round"/>
<circle cx="421.75" cy="867.24" r="2.7" fill="#000"/>
<line x1="429.88" y1="820.06" x2="429.88" y2="863.26" stroke="#888" stroke-width="0.7"/>
<rect x="428.38" y="840.66" width="3.0" height="5.15" fill="#ffee00" stroke="#333" stroke-width="0.7"/>
<path d="M429.88 841.58 L432.28 846.18 L427.48 846.18 Z" fill="#000" stroke="#000" stroke-width="0.7" stroke-linejoin="round"/>
<circle cx="429.88" cy="869.4" r="2.7" fill="#000"/>
<line x1="446.15" y1="807.94" x2="446.15" y2="843.65" stroke="#333" stroke-width="0.7"/>
<rect x="444.65" y="824.55" width="3.0" height="4.98" fill="#ffee00" stroke="#333" stroke-width="0.7"/>
<path d="M446.15 825.47 L448.55 830.07 L443.75 830.07 Z" fill="#000" stroke="#000" stroke-width="0.7" stroke-linejoin="round"/>
<circle cx="446.15" cy="869.07" r="2.7" fill="#000"/>
<line x1="454.28" y1="785.34" x2="454.28" y2="837.84" stroke="#333" stroke-width="0.7"/>
<rect x="452.78" y="807.6" width="3.0" height="7.48" fill="#ffee00" stroke="#333" stroke-width="0.7"/>
<path d="M454.28 809.19 L456.68 813.79 L451.88 813.79 Z" fill="#000" stroke="#000" stroke-width="0.7" stroke-linejoin="round"/>
<circle cx="454.28" cy="865.75" r="2.7" fill="#000"/>
<line x1="462.41" y1="791.66" x2="462.41" y2="844.98" stroke="#333" stroke-width="0.7"/>
<rect x="460.91" y="813.75" width="3.0" height="7.48" fill="#ffee00" stroke="#333" stroke-width="0.7"/>
<path d="M462.41 814.67 L464.81 819.27 L460.01 819.27 Z" fill="#000" stroke="#000" stroke-width="0.7" stroke-linejoin="round"/>
<circle cx="462.41" cy="868.07" r="2.7" fill="#000"/>
<line x1="478.67" y1="844.15" x2="478.67" y2="864.42" stroke="#333" stroke-width="0.7"/>
<path d="M478.67 851.72 L481.07 856.32 L476.27 856.32 Z" fill="#000" stroke="#000" stroke-width="0.7" stroke-linejoin="round"/>
<circle cx="478.67" cy="873.06" r="2.7" fill="#000"/>
<line x1="486.8" y1="819.9" x2="486.8" y2="850.63" stroke="#9a9a9a" stroke-width="1.3"/>
<rect x="485.3" y="833.19" width="3.0" height="4.98" fill="#ffee00" stroke="#333" stroke-width="0.7"/>
<path d="M486.8 833.44 L489.2 838.04 L484.4 838.04 Z" fill="#000" stroke="#000" stroke-width="0.7" stroke-linejoin="round"/>
<circle cx="486.8" cy="868.74" r="2.7" fill="#000"/>
<line x1="494.93" y1="810.43" x2="494.93" y2="844.48" stroke="#888" stroke-width="0.7"/>
<rect x="493.43" y="826.21" width="3.0" height="5.32" fill="#ffee00" stroke="#333" stroke-width="0.7"/>
<path d="M494.93 827.13 L497.33 831.73 L492.53 831.73 Z" fill="#000" stroke="#000" stroke-width="0.7" stroke-linejoin="round"/>
<circle cx="494.93" cy="867.24" r="2.7" fill="#000"/>
<line x1="511.19" y1="614.4" x2="511.19" y2="867.08" stroke="#888" stroke-width="0.7"/>
<rect x="509.69" y="765.41" width="3.0" height="61.63" fill="#ffee00" stroke="#333" stroke-width="0.7"/>
<path d="M511.19 796.9 L513.59 801.5 L508.79 801.5 Z" fill="#000" stroke="#000" stroke-width="0.7" stroke-linejoin="round"/>
<circle cx="511.19" cy="867.08" r="2.7" fill="#000"/>
<line x1="519.33" y1="614.4" x2="519.33" y2="862.76" stroke="#333" stroke-width="0.7"/>
<rect x="517.83" y="743.31" width="3.0" height="72.93" fill="#ffee00" stroke="#333" stroke-width="0.7"/>
<path d="M519.33 783.11 L521.73 787.71 L516.93 787.71 Z" fill="#000" stroke="#000" stroke-width="0.7" stroke-linejoin="round"/>
<circle cx="519.33" cy="862.76" r="2.7" fill="#000"/>
<line x1="527.46" y1="614.4" x2="527.46" y2="864.42" stroke="#333" stroke-width="0.7"/>
<rect x="525.96" y="758.26" width="3.0" height="65.12" fill="#ffee00" stroke="#333" stroke-width="0.7"/>
<path d="M527.46 793.91 L529.86 798.51 L525.06 798.51 Z" fill="#000" stroke="#000" stroke-width="0.7" stroke-linejoin="round"/>
<circle cx="527.46" cy="864.42" r="2.7" fill="#000"/>
<line x1="543.72" y1="736.67" x2="543.72" y2="771.22" stroke="#333" stroke-width="0.7"/>
<rect x="542.22" y="743.31" width="3.0" height="6.98" fill="#ffee00" stroke="#333" stroke-width="0.7"/>
<path d="M543.72 745.07 L546.12 749.67 L541.32 749.67 Z" fill="#000" stroke="#000" stroke-width="0.7" stroke-linejoin="round"/>
<circle cx="543.72" cy="815.08" r="2.7" fill="#000"/>
<line x1="551.85" y1="776.21" x2="551.85" y2="803.78" stroke="#9a9a9a" stroke-width="1.3"/>
<rect x="550.35" y="781.52" width="3.0" height="4.98" fill="#ffee00" stroke="#333" stroke-width="0.7"/>
<path d="M551.85 782.11 L554.25 786.71 L549.45 786.71 Z" fill="#000" stroke="#000" stroke-width="0.7" stroke-linejoin="round"/>
<circle cx="551.85" cy="832.85" r="2.7" fill="#000"/>
<line x1="559.98" y1="793.82" x2="559.98" y2="818.73" stroke="#888" stroke-width="0.7"/>
<rect x="558.48" y="797.97" width="3.0" height="4.98" fill="#ffee00" stroke="#333" stroke-width="0.7"/>
<path d="M559.98 798.89 L562.38 803.49 L557.58 803.49 Z" fill="#000" stroke="#000" stroke-width="0.7" stroke-linejoin="round"/>
<circle cx="559.98" cy="841.66" r="2.7" fill="#000"/>
</svg>
</body></html>
